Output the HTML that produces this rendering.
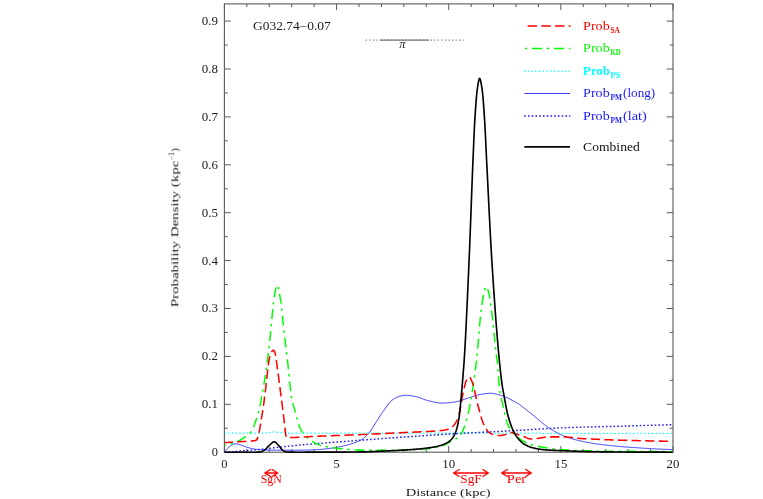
<!DOCTYPE html>
<html><head><meta charset="utf-8"><title>Distance PDF</title>
<style>
html,body{margin:0;padding:0;background:#fff;}
body{width:763px;height:499px;overflow:hidden;font-family:"Liberation Serif",serif;}
svg{display:block;}
svg text{font-family:"Liberation Serif",serif;stroke:none;}
</style></head><body>
<svg width="763" height="499" viewBox="0 0 763 499">
<rect x="0" y="0" width="763" height="499" fill="#ffffff"/>
<g opacity="0.999">
<defs><clipPath id="c"><rect x="224.4" y="3.9" width="448.20000000000005" height="449.6"/></clipPath></defs>
<rect x="224.4" y="3.9" width="448.6" height="448.3" fill="none" stroke="#5a5a5a" stroke-width="1.1"/>
<path d="M224.40,452.2 v-6.2 M224.40,3.9 v6.2 M246.83,452.2 v-3.2 M246.83,3.9 v3.2 M269.26,452.2 v-3.2 M269.26,3.9 v3.2 M291.69,452.2 v-3.2 M291.69,3.9 v3.2 M314.12,452.2 v-3.2 M314.12,3.9 v3.2 M336.55,452.2 v-6.2 M336.55,3.9 v6.2 M358.98,452.2 v-3.2 M358.98,3.9 v3.2 M381.41,452.2 v-3.2 M381.41,3.9 v3.2 M403.84,452.2 v-3.2 M403.84,3.9 v3.2 M426.27,452.2 v-3.2 M426.27,3.9 v3.2 M448.70,452.2 v-6.2 M448.70,3.9 v6.2 M471.13,452.2 v-3.2 M471.13,3.9 v3.2 M493.56,452.2 v-3.2 M493.56,3.9 v3.2 M515.99,452.2 v-3.2 M515.99,3.9 v3.2 M538.42,452.2 v-3.2 M538.42,3.9 v3.2 M560.85,452.2 v-6.2 M560.85,3.9 v6.2 M583.28,452.2 v-3.2 M583.28,3.9 v3.2 M605.71,452.2 v-3.2 M605.71,3.9 v3.2 M628.14,452.2 v-3.2 M628.14,3.9 v3.2 M650.57,452.2 v-3.2 M650.57,3.9 v3.2 M673.00,452.2 v-6.2 M673.00,3.9 v6.2 M224.4,452.20 h6.3 M673.0,452.20 h-6.3 M224.4,428.25 h3.3 M673.0,428.25 h-3.3 M224.4,404.30 h6.3 M673.0,404.30 h-6.3 M224.4,380.35 h3.3 M673.0,380.35 h-3.3 M224.4,356.40 h6.3 M673.0,356.40 h-6.3 M224.4,332.45 h3.3 M673.0,332.45 h-3.3 M224.4,308.50 h6.3 M673.0,308.50 h-6.3 M224.4,284.55 h3.3 M673.0,284.55 h-3.3 M224.4,260.60 h6.3 M673.0,260.60 h-6.3 M224.4,236.65 h3.3 M673.0,236.65 h-3.3 M224.4,212.70 h6.3 M673.0,212.70 h-6.3 M224.4,188.75 h3.3 M673.0,188.75 h-3.3 M224.4,164.80 h6.3 M673.0,164.80 h-6.3 M224.4,140.85 h3.3 M673.0,140.85 h-3.3 M224.4,116.90 h6.3 M673.0,116.90 h-6.3 M224.4,92.95 h3.3 M673.0,92.95 h-3.3 M224.4,69.00 h6.3 M673.0,69.00 h-6.3 M224.4,45.05 h3.3 M673.0,45.05 h-3.3 M224.4,21.10 h6.3 M673.0,21.10 h-6.3" fill="none" stroke="#5a5a5a" stroke-width="1"/>
<g clip-path="url(#c)" fill="none" stroke-linejoin="round">
<path d="M224.40,433.18 L225.15,433.18 L225.90,433.18 L226.65,433.18 L227.40,433.18 L228.14,433.18 L228.89,433.18 L229.64,433.18 L230.39,433.18 L231.14,433.18 L231.89,433.18 L232.64,433.18 L233.39,433.18 L234.14,433.18 L234.88,433.18 L235.63,433.18 L236.38,433.18 L237.13,433.18 L237.88,433.18 L238.63,433.18 L239.38,433.18 L240.13,433.18 L240.88,433.18 L241.63,433.18 L242.37,433.18 L243.12,433.18 L243.87,433.18 L244.62,433.18 L245.37,433.18 L246.12,433.18 L246.87,433.18 L247.62,433.18 L248.37,433.18 L249.11,433.18 L249.86,433.18 L250.61,433.18 L251.36,433.18 L252.11,433.18 L252.86,433.18 L253.61,433.18 L254.36,433.18 L255.11,433.18 L255.85,433.18 L256.60,433.18 L257.35,433.18 L258.10,433.18 L258.85,433.18 L259.60,433.18 L260.29,433.18 L260.35,433.18 L261.10,433.18 L261.85,433.16 L262.59,433.13 L263.34,433.09 L264.09,433.04 L264.84,432.98 L265.59,432.92 L266.34,432.85 L267.09,432.78 L267.84,432.71 L268.59,432.63 L269.26,432.56 L269.33,432.55 L270.08,432.44 L270.83,432.28 L271.58,432.10 L272.33,431.94 L273.08,431.83 L273.75,431.79 L273.83,431.79 L274.58,431.83 L275.33,431.91 L276.08,432.03 L276.82,432.17 L277.57,432.31 L278.32,432.43 L279.07,432.53 L279.35,432.56 L279.82,432.60 L280.57,432.67 L281.32,432.73 L282.07,432.80 L282.82,432.86 L283.56,432.92 L284.31,432.98 L285.06,433.03 L285.81,433.07 L286.56,433.11 L287.31,433.14 L288.06,433.17 L288.81,433.18 L289.45,433.18 L289.56,433.18 L290.30,433.18 L291.05,433.18 L291.80,433.18 L292.55,433.18 L293.30,433.18 L294.05,433.18 L294.80,433.18 L295.55,433.18 L296.30,433.18 L297.04,433.18 L297.79,433.18 L298.54,433.18 L299.29,433.18 L300.04,433.18 L300.79,433.18 L301.54,433.18 L302.29,433.18 L303.04,433.18 L303.78,433.18 L304.53,433.18 L305.28,433.18 L306.03,433.18 L306.78,433.18 L307.53,433.18 L308.28,433.18 L309.03,433.18 L309.78,433.18 L310.53,433.18 L311.27,433.18 L312.02,433.18 L312.77,433.18 L313.52,433.18 L314.27,433.18 L315.02,433.18 L315.77,433.18 L316.52,433.18 L317.27,433.18 L318.01,433.18 L318.76,433.18 L319.51,433.18 L320.26,433.18 L321.01,433.18 L321.76,433.18 L322.51,433.18 L323.26,433.18 L324.01,433.18 L324.75,433.18 L325.50,433.18 L326.25,433.18 L327.00,433.18 L327.75,433.18 L328.50,433.18 L329.25,433.18 L330.00,433.18 L330.75,433.18 L331.49,433.18 L332.24,433.18 L332.99,433.18 L333.74,433.18 L334.49,433.18 L335.24,433.18 L335.99,433.18 L336.74,433.18 L337.49,433.18 L338.24,433.18 L338.98,433.18 L339.73,433.18 L340.48,433.18 L341.23,433.18 L341.98,433.18 L342.73,433.18 L343.48,433.18 L344.23,433.18 L344.98,433.18 L345.72,433.18 L346.47,433.18 L347.22,433.18 L347.97,433.18 L348.72,433.18 L349.47,433.18 L350.22,433.18 L350.97,433.18 L351.72,433.18 L352.46,433.18 L353.21,433.18 L353.96,433.18 L354.71,433.18 L355.46,433.18 L356.21,433.18 L356.96,433.18 L357.71,433.18 L358.46,433.18 L359.20,433.18 L359.95,433.18 L360.70,433.18 L361.45,433.18 L362.20,433.18 L362.95,433.18 L363.70,433.18 L364.45,433.18 L365.20,433.18 L365.94,433.18 L366.69,433.18 L367.44,433.18 L368.19,433.18 L368.94,433.18 L369.69,433.18 L370.44,433.18 L371.19,433.18 L371.94,433.18 L372.69,433.18 L373.43,433.18 L374.18,433.18 L374.93,433.18 L375.68,433.18 L376.43,433.18 L377.18,433.18 L377.93,433.18 L378.68,433.18 L379.43,433.18 L380.17,433.18 L380.92,433.18 L381.67,433.18 L382.42,433.18 L383.17,433.18 L383.92,433.18 L384.67,433.18 L385.42,433.18 L386.17,433.18 L386.91,433.18 L387.66,433.18 L388.41,433.18 L389.16,433.18 L389.91,433.18 L390.66,433.18 L391.41,433.18 L392.16,433.18 L392.91,433.18 L393.65,433.18 L394.40,433.18 L395.15,433.18 L395.90,433.18 L396.65,433.18 L397.40,433.18 L398.15,433.18 L398.90,433.18 L399.65,433.18 L400.39,433.18 L401.14,433.18 L401.89,433.18 L402.64,433.18 L403.39,433.18 L404.14,433.18 L404.89,433.18 L405.64,433.18 L406.39,433.18 L407.14,433.18 L407.88,433.18 L408.63,433.18 L409.38,433.18 L410.13,433.18 L410.88,433.18 L411.63,433.18 L412.38,433.18 L413.13,433.18 L413.88,433.18 L414.62,433.18 L415.37,433.18 L416.12,433.18 L416.87,433.18 L417.62,433.18 L418.37,433.18 L419.12,433.18 L419.87,433.18 L420.62,433.18 L421.36,433.18 L422.11,433.18 L422.86,433.18 L423.61,433.18 L424.36,433.18 L425.11,433.18 L425.86,433.18 L426.61,433.18 L427.36,433.18 L428.10,433.18 L428.85,433.18 L429.60,433.18 L430.35,433.18 L431.10,433.18 L431.85,433.18 L432.60,433.18 L433.35,433.18 L434.10,433.18 L434.85,433.18 L435.59,433.18 L436.34,433.18 L437.09,433.18 L437.84,433.18 L438.59,433.18 L439.34,433.18 L440.09,433.18 L440.84,433.18 L441.59,433.18 L442.33,433.18 L443.08,433.18 L443.83,433.18 L444.58,433.18 L445.33,433.18 L446.08,433.18 L446.83,433.18 L447.58,433.18 L448.33,433.18 L449.07,433.18 L449.82,433.18 L450.57,433.18 L451.32,433.18 L452.07,433.18 L452.82,433.18 L453.57,433.18 L454.32,433.18 L455.07,433.18 L455.43,433.18 L455.81,433.18 L456.56,433.18 L457.31,433.16 L458.06,433.15 L458.81,433.12 L459.56,433.10 L460.31,433.07 L461.06,433.04 L461.81,433.01 L462.55,432.98 L463.30,432.94 L464.05,432.91 L464.80,432.88 L465.55,432.86 L466.30,432.84 L467.05,432.82 L467.80,432.81 L468.55,432.80 L468.89,432.80 L469.30,432.80 L470.04,432.81 L470.79,432.82 L471.54,432.84 L472.29,432.86 L473.04,432.89 L473.79,432.91 L474.54,432.94 L475.29,432.98 L476.04,433.01 L476.78,433.04 L477.53,433.07 L478.28,433.10 L479.03,433.12 L479.78,433.14 L480.53,433.16 L481.28,433.18 L482.03,433.18 L482.35,433.18 L482.78,433.18 L483.52,433.19 L484.27,433.19 L485.02,433.19 L485.77,433.19 L486.52,433.19 L487.27,433.19 L488.02,433.19 L488.77,433.19 L489.52,433.19 L490.26,433.19 L491.01,433.20 L491.76,433.20 L492.51,433.20 L493.26,433.20 L494.01,433.20 L494.76,433.20 L495.51,433.20 L496.26,433.20 L497.01,433.20 L497.75,433.20 L498.50,433.20 L499.25,433.21 L500.00,433.21 L500.75,433.21 L501.50,433.21 L502.25,433.21 L503.00,433.21 L503.75,433.21 L504.49,433.21 L505.24,433.21 L505.99,433.21 L506.74,433.21 L507.49,433.21 L508.24,433.22 L508.99,433.22 L509.74,433.22 L510.49,433.22 L511.23,433.22 L511.98,433.22 L512.73,433.22 L513.48,433.22 L514.23,433.22 L514.98,433.22 L515.73,433.22 L516.48,433.22 L517.23,433.22 L517.97,433.22 L518.72,433.23 L519.47,433.23 L520.22,433.23 L520.97,433.23 L521.72,433.23 L522.47,433.23 L523.22,433.23 L523.97,433.23 L524.71,433.23 L525.46,433.23 L526.21,433.23 L526.96,433.23 L527.71,433.23 L528.46,433.23 L529.21,433.23 L529.96,433.24 L530.71,433.24 L531.46,433.24 L532.20,433.24 L532.95,433.24 L533.70,433.24 L534.45,433.24 L535.20,433.24 L535.95,433.24 L536.70,433.24 L537.45,433.24 L538.20,433.24 L538.94,433.24 L539.69,433.24 L540.44,433.24 L541.19,433.24 L541.94,433.24 L542.69,433.25 L543.44,433.25 L544.19,433.25 L544.94,433.25 L545.68,433.25 L546.43,433.25 L547.18,433.25 L547.93,433.25 L548.68,433.25 L549.43,433.25 L550.18,433.25 L550.93,433.25 L551.68,433.25 L552.42,433.25 L553.17,433.25 L553.92,433.25 L554.67,433.25 L555.42,433.25 L556.17,433.25 L556.92,433.25 L557.67,433.25 L558.42,433.25 L559.16,433.26 L559.91,433.26 L560.66,433.26 L561.41,433.26 L562.16,433.26 L562.91,433.26 L563.66,433.26 L564.41,433.26 L565.16,433.26 L565.91,433.26 L566.65,433.26 L567.40,433.26 L568.15,433.26 L568.90,433.26 L569.65,433.26 L570.40,433.26 L571.15,433.26 L571.90,433.26 L572.65,433.26 L573.39,433.26 L574.14,433.26 L574.89,433.26 L575.64,433.26 L576.39,433.26 L577.14,433.26 L577.89,433.26 L578.64,433.26 L579.39,433.26 L580.13,433.27 L580.88,433.27 L581.63,433.27 L582.38,433.27 L583.13,433.27 L583.88,433.27 L584.63,433.27 L585.38,433.27 L586.13,433.27 L586.87,433.27 L587.62,433.27 L588.37,433.27 L589.12,433.27 L589.87,433.27 L590.62,433.27 L591.37,433.27 L592.12,433.27 L592.87,433.27 L593.62,433.27 L594.36,433.27 L595.11,433.27 L595.86,433.27 L596.61,433.27 L597.36,433.27 L598.11,433.27 L598.86,433.27 L599.61,433.27 L600.36,433.27 L601.10,433.27 L601.85,433.27 L602.60,433.27 L603.35,433.27 L604.10,433.27 L604.85,433.27 L605.60,433.27 L606.35,433.27 L607.10,433.27 L607.84,433.27 L608.59,433.27 L609.34,433.27 L610.09,433.27 L610.84,433.27 L611.59,433.27 L612.34,433.27 L613.09,433.27 L613.84,433.27 L614.58,433.28 L615.33,433.28 L616.08,433.28 L616.83,433.28 L617.58,433.28 L618.33,433.28 L619.08,433.28 L619.83,433.28 L620.58,433.28 L621.32,433.28 L622.07,433.28 L622.82,433.28 L623.57,433.28 L624.32,433.28 L625.07,433.28 L625.82,433.28 L626.57,433.28 L627.32,433.28 L628.07,433.28 L628.81,433.28 L629.56,433.28 L630.31,433.28 L631.06,433.28 L631.81,433.28 L632.56,433.28 L633.31,433.28 L634.06,433.28 L634.81,433.28 L635.55,433.28 L636.30,433.28 L637.05,433.28 L637.80,433.28 L638.55,433.28 L639.30,433.28 L640.05,433.28 L640.80,433.28 L641.55,433.28 L642.29,433.28 L643.04,433.28 L643.79,433.28 L644.54,433.28 L645.29,433.28 L646.04,433.28 L646.79,433.28 L647.54,433.28 L648.29,433.28 L649.03,433.28 L649.78,433.28 L650.53,433.28 L651.28,433.28 L652.03,433.28 L652.78,433.28 L653.53,433.28 L654.28,433.28 L655.03,433.28 L655.77,433.28 L656.52,433.28 L657.27,433.28 L658.02,433.28 L658.77,433.28 L659.52,433.28 L660.27,433.28 L661.02,433.28 L661.77,433.28 L662.52,433.28 L663.26,433.28 L664.01,433.28 L664.76,433.28 L665.51,433.28 L666.26,433.28 L667.01,433.28 L667.76,433.28 L668.51,433.28 L669.26,433.28 L670.00,433.28 L670.75,433.28 L671.50,433.28 L672.25,433.28 L673.00,433.28" stroke="#00ffff" stroke-width="1.25" stroke-dasharray="1.45 2.3"/>
<path d="M224.40,452.20 L225.15,452.15 L225.90,452.11 L226.65,452.06 L227.40,452.01 L228.14,451.96 L228.89,451.91 L229.64,451.86 L230.39,451.81 L231.14,451.75 L231.89,451.70 L232.64,451.65 L233.39,451.59 L234.14,451.54 L234.88,451.48 L235.63,451.43 L236.38,451.37 L237.13,451.32 L237.88,451.26 L238.63,451.20 L239.38,451.14 L240.13,451.08 L240.88,451.02 L241.63,450.96 L242.37,450.90 L243.12,450.84 L243.87,450.78 L244.62,450.72 L245.37,450.66 L246.12,450.59 L246.87,450.53 L247.62,450.47 L248.37,450.40 L249.11,450.34 L249.86,450.27 L250.61,450.21 L251.36,450.14 L252.11,450.07 L252.86,450.01 L253.61,449.94 L254.36,449.87 L255.11,449.81 L255.85,449.74 L256.60,449.67 L257.35,449.60 L258.10,449.53 L258.85,449.46 L259.60,449.39 L260.29,449.33 L260.35,449.32 L261.10,449.25 L261.85,449.18 L262.59,449.10 L263.34,449.02 L264.09,448.95 L264.84,448.87 L265.59,448.79 L266.34,448.70 L267.09,448.62 L267.84,448.54 L268.59,448.45 L269.33,448.37 L270.08,448.28 L270.83,448.19 L271.58,448.10 L272.33,448.01 L273.08,447.93 L273.83,447.84 L274.58,447.75 L275.33,447.66 L276.08,447.57 L276.82,447.48 L277.57,447.39 L278.32,447.30 L279.07,447.21 L279.82,447.13 L280.57,447.04 L281.32,446.95 L282.07,446.87 L282.82,446.78 L283.56,446.70 L284.31,446.61 L285.06,446.53 L285.81,446.45 L286.56,446.37 L287.31,446.29 L288.06,446.22 L288.10,446.21 L288.81,446.14 L289.56,446.07 L290.30,445.99 L291.05,445.92 L291.80,445.84 L292.55,445.77 L293.30,445.70 L294.05,445.62 L294.80,445.55 L295.55,445.48 L296.30,445.41 L297.04,445.34 L297.79,445.27 L298.54,445.20 L299.29,445.13 L300.04,445.06 L300.79,444.99 L301.54,444.92 L302.29,444.85 L303.04,444.78 L303.78,444.72 L304.53,444.65 L305.28,444.58 L306.03,444.51 L306.78,444.45 L307.53,444.38 L308.28,444.32 L309.03,444.25 L309.78,444.19 L310.53,444.12 L311.27,444.06 L312.02,443.99 L312.77,443.93 L313.52,443.87 L314.12,443.82 L314.27,443.80 L315.02,443.74 L315.77,443.68 L316.52,443.62 L317.27,443.56 L318.01,443.50 L318.76,443.44 L319.51,443.38 L320.26,443.32 L321.01,443.26 L321.76,443.21 L322.51,443.15 L323.26,443.09 L324.01,443.03 L324.75,442.98 L325.50,442.92 L326.25,442.86 L327.00,442.81 L327.75,442.75 L328.50,442.70 L329.25,442.64 L330.00,442.58 L330.75,442.53 L331.49,442.47 L332.24,442.42 L332.99,442.36 L333.74,442.31 L334.49,442.25 L335.24,442.19 L335.99,442.14 L336.74,442.08 L337.49,442.03 L338.24,441.97 L338.98,441.91 L339.73,441.85 L340.36,441.81 L340.48,441.80 L341.23,441.74 L341.98,441.68 L342.73,441.62 L343.48,441.56 L344.23,441.51 L344.98,441.45 L345.72,441.39 L346.47,441.33 L347.22,441.27 L347.97,441.21 L348.72,441.15 L349.47,441.09 L350.22,441.04 L350.97,440.98 L351.72,440.92 L352.46,440.86 L353.21,440.80 L353.96,440.74 L354.71,440.68 L355.46,440.62 L356.21,440.56 L356.96,440.50 L357.71,440.45 L358.46,440.39 L359.20,440.33 L359.95,440.27 L360.70,440.21 L361.45,440.15 L362.20,440.10 L362.95,440.04 L363.70,439.98 L364.45,439.92 L365.20,439.86 L365.94,439.81 L366.69,439.75 L367.44,439.69 L368.19,439.63 L368.94,439.58 L369.69,439.52 L370.44,439.47 L371.19,439.41 L371.94,439.35 L372.69,439.30 L373.11,439.27 L373.43,439.24 L374.18,439.19 L374.93,439.13 L375.68,439.08 L376.43,439.02 L377.18,438.97 L377.93,438.91 L378.68,438.86 L379.43,438.80 L380.17,438.75 L380.92,438.69 L381.67,438.64 L382.42,438.58 L383.17,438.53 L383.92,438.47 L384.67,438.42 L385.42,438.36 L386.17,438.31 L386.91,438.25 L387.66,438.20 L388.41,438.15 L389.16,438.09 L389.91,438.04 L390.66,437.98 L391.41,437.93 L392.16,437.87 L392.91,437.82 L393.65,437.77 L394.40,437.71 L395.15,437.66 L395.90,437.60 L396.65,437.55 L397.40,437.50 L398.15,437.44 L398.90,437.39 L399.65,437.33 L400.39,437.28 L401.14,437.23 L401.89,437.17 L402.64,437.12 L403.39,437.07 L404.14,437.02 L404.89,436.96 L405.64,436.91 L406.39,436.86 L407.14,436.80 L407.88,436.75 L408.63,436.70 L409.38,436.65 L410.13,436.60 L410.88,436.54 L411.63,436.49 L412.38,436.44 L413.13,436.39 L413.88,436.34 L414.62,436.28 L415.37,436.23 L416.12,436.18 L416.87,436.13 L417.62,436.08 L418.37,436.03 L419.12,435.98 L419.87,435.93 L420.62,435.88 L421.36,435.83 L422.11,435.78 L422.86,435.73 L423.61,435.68 L424.36,435.63 L425.11,435.58 L425.86,435.53 L426.61,435.48 L427.36,435.43 L428.10,435.38 L428.85,435.33 L429.60,435.29 L430.35,435.24 L431.10,435.19 L431.85,435.14 L432.60,435.09 L433.35,435.05 L434.10,435.00 L434.85,434.95 L435.59,434.90 L436.34,434.86 L437.09,434.81 L437.84,434.76 L438.59,434.72 L439.34,434.67 L440.09,434.63 L440.18,434.62 L440.84,434.58 L441.59,434.53 L442.33,434.49 L443.08,434.44 L443.83,434.40 L444.58,434.36 L445.33,434.31 L446.08,434.27 L446.83,434.22 L447.58,434.18 L448.33,434.13 L449.07,434.09 L449.82,434.05 L450.57,434.00 L451.32,433.96 L452.07,433.92 L452.82,433.88 L453.57,433.83 L454.32,433.79 L455.07,433.75 L455.81,433.71 L456.56,433.66 L457.31,433.62 L458.06,433.58 L458.81,433.54 L459.56,433.50 L460.31,433.46 L461.06,433.42 L461.81,433.37 L462.55,433.33 L463.30,433.29 L464.05,433.25 L464.80,433.21 L465.55,433.17 L466.30,433.13 L467.05,433.09 L467.80,433.05 L468.55,433.01 L469.30,432.97 L470.04,432.93 L470.79,432.89 L471.54,432.85 L472.29,432.81 L473.04,432.77 L473.79,432.73 L474.54,432.69 L475.29,432.65 L476.04,432.61 L476.78,432.57 L477.53,432.53 L478.28,432.49 L479.03,432.45 L479.78,432.41 L480.53,432.38 L481.28,432.34 L482.03,432.30 L482.78,432.26 L483.52,432.22 L484.27,432.18 L485.02,432.14 L485.77,432.10 L486.52,432.06 L487.27,432.02 L488.02,431.98 L488.77,431.94 L489.52,431.91 L490.26,431.87 L491.01,431.83 L491.76,431.79 L492.51,431.75 L493.26,431.71 L494.01,431.67 L494.76,431.63 L495.51,431.59 L496.26,431.55 L497.01,431.51 L497.75,431.47 L498.50,431.43 L499.25,431.39 L500.00,431.35 L500.75,431.31 L501.50,431.27 L502.25,431.23 L503.00,431.19 L503.75,431.15 L504.49,431.11 L505.24,431.07 L505.99,431.03 L506.74,430.99 L507.49,430.95 L508.24,430.91 L508.99,430.87 L509.74,430.83 L510.49,430.79 L511.23,430.75 L511.98,430.71 L512.73,430.66 L513.07,430.64 L513.48,430.62 L514.23,430.58 L514.98,430.54 L515.73,430.50 L516.48,430.45 L517.23,430.41 L517.97,430.36 L518.72,430.32 L519.47,430.28 L520.22,430.23 L520.97,430.19 L521.72,430.14 L522.47,430.10 L523.22,430.05 L523.97,430.00 L524.71,429.96 L525.46,429.91 L526.21,429.87 L526.96,429.82 L527.71,429.77 L528.46,429.73 L529.21,429.68 L529.96,429.63 L530.71,429.59 L531.46,429.54 L532.20,429.49 L532.95,429.45 L533.70,429.40 L534.45,429.35 L535.20,429.31 L535.95,429.26 L536.70,429.21 L537.45,429.17 L538.20,429.12 L538.94,429.08 L539.69,429.03 L540.44,428.99 L541.19,428.94 L541.94,428.90 L542.69,428.85 L543.44,428.81 L544.19,428.76 L544.94,428.72 L545.68,428.68 L546.43,428.63 L547.18,428.59 L547.93,428.55 L548.68,428.51 L549.43,428.47 L550.18,428.43 L550.93,428.39 L551.68,428.35 L552.42,428.31 L553.17,428.27 L553.92,428.23 L554.67,428.19 L555.42,428.16 L556.17,428.12 L556.92,428.08 L557.67,428.05 L558.42,428.01 L559.16,427.98 L559.91,427.95 L560.66,427.91 L561.41,427.88 L562.16,427.85 L562.91,427.82 L563.66,427.79 L564.21,427.77 L564.41,427.76 L565.16,427.74 L565.91,427.71 L566.65,427.68 L567.40,427.65 L568.15,427.63 L568.90,427.60 L569.65,427.58 L570.40,427.55 L571.15,427.52 L571.90,427.50 L572.65,427.48 L573.39,427.45 L574.14,427.43 L574.89,427.40 L575.64,427.38 L576.39,427.36 L577.14,427.33 L577.89,427.31 L578.64,427.29 L579.39,427.27 L580.13,427.25 L580.88,427.22 L581.63,427.20 L582.38,427.18 L583.13,427.16 L583.88,427.14 L584.63,427.12 L585.38,427.10 L586.13,427.08 L586.87,427.06 L587.62,427.04 L588.37,427.02 L589.12,427.00 L589.87,426.98 L590.62,426.96 L591.37,426.94 L592.12,426.92 L592.87,426.90 L593.62,426.88 L594.36,426.86 L595.11,426.84 L595.86,426.83 L596.61,426.81 L597.36,426.79 L598.11,426.77 L598.86,426.75 L599.61,426.73 L600.36,426.71 L601.10,426.69 L601.85,426.68 L602.60,426.66 L603.35,426.64 L604.10,426.62 L604.85,426.60 L605.60,426.58 L606.35,426.56 L607.10,426.54 L607.84,426.53 L608.59,426.51 L609.34,426.49 L610.09,426.47 L610.84,426.45 L611.59,426.43 L612.34,426.41 L613.09,426.39 L613.84,426.37 L614.58,426.35 L615.33,426.33 L616.08,426.31 L616.83,426.29 L617.58,426.27 L618.33,426.25 L619.08,426.23 L619.83,426.21 L620.58,426.19 L621.32,426.16 L622.07,426.14 L622.08,426.14 L622.82,426.12 L623.57,426.10 L624.32,426.08 L625.07,426.06 L625.82,426.03 L626.57,426.01 L627.32,425.99 L628.07,425.97 L628.81,425.95 L629.56,425.92 L630.31,425.90 L631.06,425.88 L631.81,425.86 L632.56,425.84 L633.31,425.81 L634.06,425.79 L634.81,425.77 L635.55,425.75 L636.30,425.72 L637.05,425.70 L637.80,425.68 L638.55,425.66 L639.30,425.64 L640.05,425.61 L640.80,425.59 L641.55,425.57 L642.29,425.55 L643.04,425.52 L643.79,425.50 L644.54,425.48 L645.29,425.46 L646.04,425.43 L646.79,425.41 L647.54,425.39 L648.29,425.37 L649.03,425.34 L649.78,425.32 L650.53,425.30 L651.28,425.28 L652.03,425.25 L652.78,425.23 L653.53,425.21 L654.28,425.18 L655.03,425.16 L655.77,425.14 L656.52,425.12 L657.27,425.09 L658.02,425.07 L658.77,425.05 L659.52,425.02 L660.27,425.00 L661.02,424.98 L661.77,424.96 L662.52,424.93 L663.26,424.91 L664.01,424.89 L664.76,424.86 L665.51,424.84 L666.26,424.82 L667.01,424.79 L667.76,424.77 L668.51,424.75 L669.26,424.73 L670.00,424.70 L670.75,424.68 L671.50,424.66 L672.25,424.63 L673.00,424.61" stroke="#1a1aff" stroke-width="1.45" stroke-dasharray="1.6 2.15"/>
<path d="M224.40,452.20 L225.15,451.28 L225.90,450.40 L226.65,449.56 L227.40,448.75 L227.76,448.37 L228.14,447.97 L228.89,447.17 L229.64,446.39 L230.39,445.73 L231.13,445.25 L231.14,445.25 L231.89,444.89 L232.64,444.55 L233.39,444.26 L234.14,444.02 L234.88,443.87 L235.62,443.82 L235.63,443.82 L236.38,443.86 L237.13,443.98 L237.88,444.16 L238.63,444.36 L239.38,444.58 L240.10,444.78 L240.13,444.78 L240.88,445.00 L241.63,445.25 L242.37,445.53 L243.12,445.82 L243.87,446.11 L244.62,446.41 L245.37,446.69 L246.12,446.95 L246.83,447.17 L246.87,447.18 L247.62,447.40 L248.37,447.62 L249.11,447.83 L249.86,448.05 L250.61,448.25 L251.36,448.45 L252.11,448.64 L252.86,448.81 L253.61,448.97 L254.36,449.11 L255.11,449.22 L255.85,449.31 L256.03,449.33 L256.60,449.38 L257.35,449.44 L258.10,449.50 L258.85,449.56 L259.60,449.62 L260.35,449.67 L261.10,449.72 L261.85,449.76 L262.59,449.80 L263.34,449.84 L264.09,449.88 L264.84,449.91 L265.59,449.94 L266.34,449.97 L267.09,449.99 L267.84,450.01 L268.59,450.03 L269.26,450.04 L269.33,450.05 L270.08,450.06 L270.83,450.07 L271.58,450.09 L272.33,450.10 L273.08,450.11 L273.83,450.13 L274.58,450.14 L275.33,450.15 L276.08,450.16 L276.82,450.17 L277.57,450.18 L278.32,450.19 L279.07,450.20 L279.82,450.21 L280.57,450.22 L281.32,450.23 L282.07,450.23 L282.82,450.24 L283.56,450.25 L284.31,450.25 L285.06,450.26 L285.81,450.26 L286.56,450.27 L287.31,450.27 L288.06,450.28 L288.81,450.28 L289.56,450.28 L290.30,450.28 L291.05,450.28 L291.69,450.28 L291.80,450.28 L292.55,450.28 L293.30,450.28 L294.05,450.28 L294.80,450.27 L295.55,450.27 L296.30,450.26 L297.04,450.25 L297.79,450.24 L298.54,450.23 L299.29,450.22 L300.04,450.20 L300.79,450.19 L301.54,450.17 L302.29,450.16 L303.04,450.14 L303.78,450.12 L304.53,450.10 L305.28,450.08 L306.03,450.06 L306.78,450.04 L307.53,450.02 L308.28,450.00 L309.03,449.98 L309.78,449.95 L310.53,449.93 L311.27,449.90 L312.02,449.88 L312.77,449.85 L313.52,449.83 L314.12,449.81 L314.27,449.80 L315.02,449.77 L315.77,449.73 L316.52,449.70 L317.27,449.65 L318.01,449.60 L318.76,449.55 L319.51,449.50 L320.26,449.44 L321.01,449.37 L321.76,449.30 L322.51,449.23 L323.26,449.16 L324.01,449.08 L324.75,449.00 L325.50,448.92 L326.25,448.83 L327.00,448.74 L327.75,448.65 L328.50,448.55 L329.25,448.46 L330.00,448.36 L330.75,448.25 L331.49,448.15 L332.24,448.05 L332.99,447.94 L333.74,447.83 L334.49,447.72 L335.24,447.61 L335.99,447.50 L336.55,447.41 L336.74,447.38 L337.49,447.26 L338.24,447.13 L338.98,446.99 L339.73,446.84 L340.48,446.69 L341.23,446.53 L341.98,446.36 L342.73,446.18 L343.48,446.00 L344.23,445.81 L344.98,445.61 L345.72,445.41 L346.47,445.21 L347.22,445.00 L347.97,444.79 L348.72,444.58 L349.47,444.36 L350.01,444.20 L350.22,444.14 L350.97,443.92 L351.72,443.69 L352.46,443.46 L353.21,443.22 L353.96,442.98 L354.71,442.72 L355.46,442.45 L356.21,442.17 L356.96,441.88 L357.71,441.57 L358.46,441.24 L359.20,440.90 L359.95,440.53 L360.55,440.22 L360.70,440.14 L361.45,439.71 L362.20,439.23 L362.95,438.71 L363.70,438.14 L364.45,437.53 L365.20,436.88 L365.94,436.19 L366.69,435.47 L367.44,434.72 L367.95,434.19 L368.19,433.93 L368.94,433.05 L369.69,432.07 L370.44,431.01 L371.19,429.89 L371.94,428.71 L372.69,427.51 L373.43,426.28 L374.18,425.06 L374.93,423.86 L375.68,422.69 L376.03,422.17 L376.43,421.56 L377.18,420.42 L377.93,419.27 L378.68,418.11 L379.43,416.95 L380.17,415.80 L380.92,414.65 L381.67,413.52 L382.42,412.42 L383.17,411.34 L383.92,410.30 L384.10,410.05 L384.67,409.27 L385.42,408.22 L386.17,407.16 L386.91,406.10 L387.66,405.06 L388.41,404.05 L389.16,403.10 L389.91,402.21 L390.66,401.41 L391.41,400.70 L392.16,400.10 L392.18,400.08 L392.91,399.58 L393.65,399.08 L394.40,398.60 L395.15,398.16 L395.90,397.74 L396.65,397.36 L397.40,397.02 L398.15,396.72 L398.90,396.46 L399.65,396.25 L400.03,396.16 L400.39,396.08 L401.14,395.92 L401.89,395.77 L402.64,395.63 L403.39,395.51 L404.14,395.41 L404.89,395.34 L405.64,395.30 L406.08,395.29 L406.39,395.30 L407.14,395.32 L407.88,395.36 L408.63,395.42 L409.38,395.50 L410.13,395.60 L410.88,395.71 L411.63,395.83 L412.38,395.96 L413.13,396.09 L413.88,396.24 L414.62,396.38 L415.37,396.53 L416.12,396.67 L416.18,396.68 L416.87,396.83 L417.62,397.02 L418.37,397.24 L419.12,397.48 L419.87,397.74 L420.62,398.02 L421.36,398.30 L422.11,398.59 L422.86,398.89 L423.61,399.18 L424.36,399.47 L425.11,399.74 L425.86,400.01 L426.61,400.25 L427.36,400.47 L428.10,400.66 L428.29,400.71 L428.85,400.84 L429.60,401.01 L430.35,401.19 L431.10,401.37 L431.85,401.55 L432.60,401.72 L433.35,401.90 L434.10,402.06 L434.85,402.22 L435.59,402.37 L436.34,402.51 L437.09,402.64 L437.84,402.76 L438.59,402.86 L439.34,402.95 L440.09,403.02 L440.84,403.07 L441.59,403.09 L442.20,403.10 L442.33,403.10 L443.08,403.09 L443.83,403.08 L444.58,403.05 L445.33,403.01 L446.08,402.97 L446.83,402.91 L447.58,402.85 L448.33,402.79 L449.07,402.71 L449.82,402.63 L450.57,402.55 L451.32,402.47 L452.07,402.38 L452.82,402.28 L453.57,402.19 L454.31,402.10 L454.32,402.10 L455.07,401.99 L455.81,401.86 L456.56,401.70 L457.31,401.53 L458.06,401.34 L458.81,401.13 L459.56,400.91 L460.31,400.68 L461.06,400.44 L461.81,400.19 L462.55,399.94 L463.30,399.68 L464.05,399.43 L464.80,399.17 L465.55,398.92 L466.30,398.67 L467.05,398.43 L467.80,398.20 L468.21,398.07 L468.55,397.97 L469.30,397.74 L470.04,397.50 L470.79,397.26 L471.54,397.01 L472.29,396.75 L473.04,396.50 L473.79,396.25 L474.54,396.00 L475.29,395.76 L476.04,395.53 L476.78,395.30 L477.53,395.10 L478.28,394.91 L479.03,394.73 L479.78,394.58 L480.33,394.48 L480.53,394.45 L481.28,394.32 L482.03,394.19 L482.78,394.07 L483.52,393.95 L484.27,393.83 L485.02,393.72 L485.77,393.62 L486.52,393.53 L487.27,393.45 L488.02,393.38 L488.77,393.33 L489.52,393.30 L490.26,393.28 L490.42,393.28 L491.01,393.29 L491.76,393.34 L492.51,393.41 L493.26,393.51 L494.01,393.64 L494.76,393.79 L495.51,393.95 L496.26,394.13 L497.01,394.32 L497.75,394.51 L498.50,394.72 L499.25,394.92 L500.00,395.12 L500.29,395.20 L500.75,395.32 L501.50,395.54 L502.25,395.78 L503.00,396.04 L503.75,396.31 L504.49,396.60 L505.24,396.90 L505.99,397.22 L506.74,397.55 L507.49,397.89 L508.24,398.25 L508.99,398.61 L509.74,398.99 L510.49,399.37 L511.23,399.76 L511.98,400.16 L512.73,400.57 L513.48,400.98 L514.23,401.39 L514.98,401.81 L515.73,402.24 L515.99,402.38 L516.48,402.66 L517.23,403.12 L517.97,403.59 L518.72,404.08 L519.47,404.58 L520.22,405.11 L520.97,405.65 L521.72,406.20 L522.47,406.76 L523.22,407.34 L523.97,407.92 L524.71,408.51 L525.46,409.11 L526.21,409.71 L526.96,410.31 L527.71,410.92 L528.46,411.53 L529.21,412.13 L529.96,412.73 L530.71,413.33 L531.46,413.92 L532.14,414.45 L532.20,414.50 L532.95,415.09 L533.70,415.70 L534.45,416.31 L535.20,416.93 L535.95,417.57 L536.70,418.20 L537.45,418.84 L538.20,419.49 L538.94,420.13 L539.69,420.77 L540.44,421.41 L541.19,422.04 L541.94,422.67 L542.69,423.29 L543.44,423.89 L544.19,424.49 L544.94,425.07 L545.68,425.63 L546.43,426.18 L547.18,426.70 L547.93,427.20 L548.06,427.29 L548.68,427.69 L549.43,428.17 L550.18,428.65 L550.93,429.12 L551.68,429.59 L552.42,430.05 L553.17,430.51 L553.92,430.95 L554.67,431.39 L555.42,431.82 L556.17,432.25 L556.92,432.66 L557.67,433.06 L558.42,433.46 L559.16,433.84 L559.91,434.21 L560.66,434.57 L561.41,434.92 L562.16,435.26 L562.91,435.58 L563.66,435.89 L564.21,436.11 L564.41,436.18 L565.16,436.47 L565.91,436.74 L566.65,437.01 L567.40,437.28 L568.15,437.54 L568.90,437.79 L569.65,438.04 L570.40,438.28 L571.15,438.51 L571.90,438.74 L572.65,438.96 L573.39,439.18 L574.14,439.39 L574.89,439.59 L575.64,439.79 L576.39,439.99 L577.14,440.18 L577.89,440.37 L578.64,440.55 L579.39,440.72 L580.13,440.89 L580.14,440.90 L580.88,441.06 L581.63,441.23 L582.38,441.39 L583.13,441.54 L583.88,441.70 L584.63,441.85 L585.38,441.99 L586.13,442.14 L586.87,442.28 L587.62,442.41 L588.37,442.55 L589.12,442.68 L589.87,442.81 L590.62,442.94 L591.37,443.06 L592.12,443.18 L592.87,443.30 L593.62,443.42 L594.36,443.53 L595.11,443.65 L595.86,443.76 L596.29,443.82 L596.61,443.86 L597.36,443.97 L598.11,444.07 L598.86,444.17 L599.61,444.27 L600.36,444.37 L601.10,444.47 L601.85,444.56 L602.60,444.65 L603.35,444.74 L604.10,444.83 L604.85,444.92 L605.60,445.01 L606.35,445.09 L607.10,445.18 L607.84,445.26 L608.59,445.34 L609.34,445.42 L610.09,445.51 L610.84,445.59 L611.59,445.67 L612.21,445.73 L612.34,445.75 L613.09,445.83 L613.84,445.91 L614.58,445.99 L615.33,446.06 L616.08,446.14 L616.83,446.22 L617.58,446.29 L618.33,446.37 L619.08,446.44 L619.83,446.51 L620.58,446.57 L621.32,446.63 L622.07,446.69 L622.08,446.69 L622.82,446.75 L623.57,446.80 L624.32,446.86 L625.07,446.92 L625.82,446.97 L626.57,447.03 L627.32,447.08 L628.07,447.14 L628.81,447.19 L629.56,447.25 L630.31,447.30 L631.06,447.36 L631.81,447.41 L632.56,447.46 L633.31,447.52 L634.06,447.57 L634.81,447.62 L635.55,447.67 L636.30,447.73 L637.05,447.78 L637.80,447.83 L638.55,447.88 L639.30,447.93 L640.05,447.98 L640.80,448.03 L641.55,448.08 L642.29,448.13 L643.04,448.17 L643.79,448.22 L644.54,448.27 L645.29,448.32 L646.04,448.36 L646.79,448.41 L647.54,448.45 L648.29,448.50 L649.03,448.54 L649.78,448.58 L650.53,448.62 L651.28,448.67 L652.03,448.71 L652.78,448.75 L653.53,448.79 L654.28,448.82 L655.03,448.86 L655.77,448.90 L656.52,448.94 L657.27,448.97 L658.02,449.01 L658.77,449.04 L659.52,449.07 L660.27,449.11 L661.02,449.14 L661.77,449.17 L662.52,449.20 L663.26,449.23 L664.01,449.26 L664.76,449.28 L665.51,449.31 L666.26,449.34 L667.01,449.36 L667.76,449.38 L668.51,449.41 L669.26,449.43 L670.00,449.45 L670.75,449.47 L671.50,449.48 L672.25,449.50 L673.00,449.52" stroke="#3636ff" stroke-width="1"/>
<path d="M224.40,445.01 L225.15,444.94 L225.90,444.85 L226.65,444.74 L227.40,444.61 L228.14,444.46 L228.89,444.30 L229.64,444.12 L230.39,443.93 L231.14,443.73 L231.89,443.53 L232.64,443.31 L233.37,443.10 L233.39,443.09 L234.14,442.86 L234.88,442.59 L235.63,442.29 L236.38,441.97 L237.13,441.63 L237.88,441.26 L238.63,440.88 L239.38,440.48 L240.13,440.07 L240.88,439.64 L241.63,439.21 L242.34,438.79 L242.37,438.77 L243.12,438.33 L243.87,437.89 L244.62,437.44 L245.37,436.97 L246.12,436.46 L246.87,435.92 L247.62,435.33 L248.37,434.68 L249.11,433.96 L249.86,433.16 L249.97,433.04 L250.61,432.23 L251.36,431.10 L252.11,429.77 L252.86,428.26 L253.61,426.58 L254.36,424.75 L255.11,422.77 L255.85,420.67 L256.60,418.44 L257.35,416.11 L258.05,413.88 L258.10,413.69 L258.85,410.94 L259.60,407.72 L260.35,404.13 L261.10,400.27 L261.85,396.22 L262.59,392.07 L262.98,389.93 L263.34,387.89 L264.09,383.52 L264.84,378.93 L265.59,374.08 L266.34,368.96 L267.02,364.06 L267.09,363.53 L267.84,357.64 L268.59,351.27 L269.33,344.55 L270.08,337.62 L270.38,334.84 L270.83,330.35 L271.58,322.08 L272.33,313.65 L273.08,306.07 L273.75,300.84 L273.83,300.31 L274.58,295.39 L275.33,290.80 L276.08,287.18 L276.82,285.21 L277.11,285.03 L277.57,285.45 L278.32,287.65 L279.07,291.21 L279.82,295.50 L280.48,299.40 L280.57,299.96 L281.32,305.57 L282.07,312.58 L282.82,320.18 L283.56,327.56 L283.84,330.06 L284.31,334.15 L285.06,340.42 L285.81,346.56 L286.56,352.72 L287.31,359.01 L288.06,365.59 L288.10,365.98 L288.81,373.04 L289.56,381.20 L290.30,388.77 L291.02,394.24 L291.05,394.46 L291.80,398.51 L292.55,401.92 L293.30,404.89 L294.05,407.60 L294.80,410.23 L295.28,411.96 L295.55,412.96 L296.30,415.80 L297.04,418.64 L297.79,421.37 L298.54,423.90 L299.29,426.11 L300.04,427.91 L300.21,428.25 L300.79,429.32 L301.54,430.61 L302.29,431.80 L303.04,432.90 L303.78,433.91 L304.53,434.84 L305.28,435.69 L306.03,436.48 L306.78,437.20 L307.53,437.86 L308.06,438.31 L308.28,438.48 L309.03,439.07 L309.78,439.65 L310.53,440.20 L311.27,440.73 L312.02,441.24 L312.77,441.72 L313.52,442.19 L314.27,442.63 L315.02,443.04 L315.77,443.43 L316.52,443.80 L317.27,444.14 L318.01,444.45 L318.76,444.74 L319.51,445.00 L320.18,445.21 L320.26,445.23 L321.01,445.44 L321.76,445.64 L322.51,445.83 L323.26,446.01 L324.01,446.18 L324.75,446.34 L325.50,446.49 L326.25,446.63 L327.00,446.77 L327.75,446.90 L328.50,447.03 L329.25,447.15 L330.00,447.26 L330.75,447.38 L331.49,447.49 L332.24,447.60 L332.29,447.60 L332.99,447.70 L333.74,447.81 L334.49,447.91 L335.24,448.01 L335.99,448.11 L336.74,448.21 L337.49,448.31 L338.24,448.40 L338.98,448.49 L339.73,448.58 L340.48,448.66 L341.23,448.75 L341.98,448.82 L342.73,448.90 L343.48,448.97 L344.23,449.04 L344.98,449.11 L345.72,449.17 L346.47,449.23 L347.22,449.29 L347.76,449.33 L347.97,449.34 L348.72,449.39 L349.47,449.44 L350.22,449.49 L350.97,449.54 L351.72,449.59 L352.46,449.65 L353.21,449.69 L353.96,449.74 L354.71,449.79 L355.46,449.84 L356.21,449.88 L356.96,449.93 L357.71,449.97 L358.46,450.01 L359.20,450.05 L359.95,450.08 L360.70,450.12 L361.45,450.15 L362.20,450.17 L362.95,450.20 L363.70,450.22 L364.45,450.24 L365.20,450.26 L365.94,450.27 L366.69,450.28 L367.44,450.28 L367.95,450.28 L368.19,450.28 L368.94,450.28 L369.69,450.28 L370.44,450.28 L371.19,450.28 L371.94,450.28 L372.69,450.28 L373.43,450.28 L374.18,450.28 L374.93,450.27 L375.68,450.27 L376.43,450.27 L377.18,450.27 L377.93,450.26 L378.68,450.26 L379.43,450.26 L380.17,450.25 L380.92,450.25 L381.67,450.25 L382.42,450.24 L383.17,450.24 L383.92,450.23 L384.67,450.23 L385.42,450.22 L386.17,450.22 L386.91,450.21 L387.66,450.21 L388.41,450.20 L389.16,450.20 L389.91,450.19 L390.66,450.18 L391.41,450.18 L392.16,450.17 L392.91,450.16 L393.65,450.16 L394.40,450.15 L395.15,450.14 L395.90,450.14 L396.65,450.13 L397.40,450.12 L398.15,450.11 L398.90,450.10 L399.65,450.09 L400.39,450.09 L401.14,450.08 L401.89,450.07 L402.64,450.06 L403.39,450.05 L403.84,450.04 L404.14,450.04 L404.89,450.03 L405.64,450.01 L406.39,450.00 L407.14,449.98 L407.88,449.96 L408.63,449.93 L409.38,449.91 L410.13,449.88 L410.88,449.85 L411.63,449.82 L412.38,449.78 L413.13,449.75 L413.88,449.71 L414.62,449.67 L415.37,449.63 L416.12,449.58 L416.87,449.54 L417.62,449.49 L418.37,449.44 L419.12,449.39 L419.87,449.34 L420.62,449.29 L421.36,449.23 L422.11,449.18 L422.86,449.12 L423.61,449.06 L424.36,449.00 L425.11,448.94 L425.86,448.88 L426.27,448.85 L426.61,448.82 L427.36,448.75 L428.10,448.68 L428.85,448.60 L429.60,448.51 L430.35,448.42 L431.10,448.32 L431.85,448.22 L432.60,448.10 L433.35,447.99 L434.10,447.86 L434.85,447.73 L435.59,447.59 L436.34,447.45 L437.09,447.30 L437.84,447.14 L438.59,446.97 L439.34,446.80 L440.09,446.62 L440.18,446.60 L440.84,446.42 L441.59,446.18 L442.33,445.90 L443.08,445.60 L443.83,445.26 L444.58,444.90 L445.33,444.53 L446.08,444.13 L446.83,443.73 L447.58,443.31 L448.33,442.89 L449.07,442.47 L449.82,442.05 L450.27,441.81 L450.57,441.64 L451.32,441.25 L452.07,440.87 L452.82,440.49 L453.57,440.11 L454.32,439.72 L455.07,439.31 L455.81,438.88 L456.56,438.41 L457.31,437.89 L458.06,437.33 L458.81,436.71 L459.56,436.02 L460.31,435.26 L460.36,435.20 L461.06,434.29 L461.81,433.00 L462.55,431.44 L463.30,429.65 L464.05,427.68 L464.80,425.60 L465.30,424.18 L465.55,423.43 L466.30,420.96 L467.05,418.17 L467.80,415.10 L468.55,411.81 L469.30,408.32 L469.34,408.13 L470.04,404.57 L470.79,400.43 L471.54,395.98 L472.29,391.28 L473.04,386.39 L473.37,384.18 L473.79,381.40 L474.54,376.24 L475.29,370.79 L476.04,364.88 L476.74,358.79 L476.78,358.36 L477.53,350.43 L478.28,341.26 L479.03,331.89 L479.78,323.35 L480.10,320.19 L480.53,316.27 L481.28,309.60 L482.03,303.54 L482.78,298.49 L483.24,296.05 L483.52,294.74 L484.27,291.33 L485.02,288.46 L485.77,286.72 L486.16,286.47 L486.52,286.64 L487.27,287.96 L488.02,290.21 L488.77,292.96 L489.07,294.13 L489.52,296.13 L490.26,300.74 L491.01,306.38 L491.76,312.49 L492.21,316.16 L492.51,318.63 L493.26,325.51 L494.01,332.97 L494.76,340.55 L495.51,347.79 L496.25,354.20 L496.26,354.23 L497.01,359.33 L497.37,362.15 L497.75,366.21 L498.50,376.70 L499.25,386.66 L499.62,389.93 L500.00,392.34 L500.75,396.06 L501.50,399.08 L502.25,402.12 L502.31,402.38 L503.00,405.56 L503.75,409.16 L504.49,412.75 L505.24,416.15 L505.99,419.20 L506.74,421.73 L507.02,422.50 L507.49,423.69 L508.24,425.40 L508.99,426.94 L509.74,428.31 L510.49,429.53 L511.23,430.64 L511.73,431.32 L511.98,431.65 L512.73,432.59 L513.48,433.46 L514.23,434.28 L514.98,435.05 L515.73,435.76 L516.48,436.43 L517.23,437.05 L517.97,437.64 L518.23,437.83 L518.72,438.19 L519.47,438.73 L520.22,439.25 L520.97,439.76 L521.72,440.25 L522.47,440.72 L523.22,441.17 L523.97,441.60 L524.71,442.01 L525.46,442.40 L526.21,442.77 L526.96,443.10 L527.71,443.42 L528.46,443.70 L528.78,443.82 L529.21,443.97 L529.96,444.22 L530.71,444.45 L531.46,444.68 L532.20,444.90 L532.95,445.11 L533.70,445.31 L534.45,445.50 L535.20,445.68 L535.95,445.86 L536.70,446.03 L537.45,446.19 L538.20,446.35 L538.94,446.50 L539.69,446.64 L540.44,446.78 L541.19,446.92 L541.78,447.03 L541.94,447.05 L542.69,447.18 L543.44,447.31 L544.19,447.44 L544.94,447.57 L545.68,447.69 L546.43,447.81 L547.18,447.93 L547.93,448.04 L548.68,448.16 L549.43,448.27 L550.18,448.37 L550.93,448.48 L551.68,448.58 L552.42,448.68 L553.17,448.78 L553.92,448.87 L554.67,448.96 L555.42,449.05 L556.17,449.13 L556.92,449.21 L557.67,449.28 L558.42,449.36 L559.16,449.43 L559.91,449.49 L560.66,449.55 L560.85,449.57 L561.41,449.61 L562.16,449.67 L562.91,449.72 L563.66,449.78 L564.41,449.83 L565.16,449.88 L565.91,449.93 L566.65,449.98 L567.40,450.03 L568.15,450.08 L568.90,450.13 L569.65,450.18 L570.40,450.22 L571.15,450.26 L571.90,450.31 L572.65,450.35 L573.39,450.39 L574.14,450.42 L574.89,450.46 L575.64,450.50 L576.39,450.53 L577.14,450.56 L577.89,450.59 L578.64,450.62 L579.39,450.65 L580.13,450.67 L580.88,450.70 L581.63,450.72 L582.38,450.74 L583.13,450.76 L583.28,450.76 L583.88,450.78 L584.63,450.79 L585.38,450.81 L586.13,450.83 L586.87,450.84 L587.62,450.86 L588.37,450.87 L589.12,450.89 L589.87,450.90 L590.62,450.92 L591.37,450.93 L592.12,450.95 L592.87,450.96 L593.62,450.97 L594.36,450.98 L595.11,451.00 L595.86,451.01 L596.61,451.02 L597.36,451.03 L598.11,451.04 L598.86,451.05 L599.61,451.06 L600.36,451.08 L601.10,451.09 L601.85,451.10 L602.60,451.10 L603.35,451.11 L604.10,451.12 L604.85,451.13 L605.60,451.14 L606.35,451.15 L607.10,451.16 L607.84,451.16 L608.59,451.17 L609.34,451.18 L610.09,451.19 L610.84,451.19 L611.59,451.20 L612.34,451.21 L613.09,451.21 L613.84,451.22 L614.58,451.22 L615.33,451.23 L616.08,451.24 L616.83,451.24 L616.92,451.24 L617.58,451.25 L618.33,451.25 L619.08,451.26 L619.83,451.26 L620.58,451.27 L621.32,451.27 L622.07,451.28 L622.82,451.28 L623.57,451.29 L624.32,451.29 L625.07,451.30 L625.82,451.30 L626.57,451.31 L627.32,451.31 L628.07,451.32 L628.81,451.32 L629.56,451.33 L630.31,451.33 L631.06,451.33 L631.81,451.34 L632.56,451.34 L633.31,451.35 L634.06,451.35 L634.81,451.36 L635.55,451.36 L636.30,451.37 L637.05,451.37 L637.80,451.37 L638.55,451.38 L639.30,451.38 L640.05,451.39 L640.80,451.39 L641.55,451.39 L642.29,451.40 L643.04,451.40 L643.79,451.40 L644.54,451.41 L645.29,451.41 L646.04,451.41 L646.79,451.42 L647.54,451.42 L648.29,451.42 L649.03,451.43 L649.78,451.43 L650.53,451.43 L651.28,451.44 L652.03,451.44 L652.78,451.44 L653.53,451.45 L654.28,451.45 L655.03,451.45 L655.77,451.45 L656.52,451.46 L657.27,451.46 L658.02,451.46 L658.77,451.46 L659.52,451.46 L660.27,451.47 L661.02,451.47 L661.77,451.47 L662.52,451.47 L663.26,451.47 L664.01,451.47 L664.76,451.47 L665.51,451.48 L666.26,451.48 L667.01,451.48 L667.76,451.48 L668.51,451.48 L669.26,451.48 L670.00,451.48 L670.75,451.48 L671.50,451.48 L672.25,451.48 L673.00,451.48" stroke="#00ff00" stroke-width="1.5" stroke-dasharray="10 4.7 2.5 4.8" stroke-dashoffset="8.5"/>
<path d="M224.40,442.62 L225.15,442.58 L225.90,442.53 L226.65,442.49 L227.40,442.44 L228.14,442.40 L228.89,442.35 L229.64,442.31 L230.39,442.26 L231.14,442.21 L231.89,442.17 L232.64,442.12 L233.39,442.08 L234.14,442.03 L234.88,441.99 L235.63,441.94 L236.38,441.89 L237.13,441.85 L237.88,441.80 L238.63,441.75 L239.38,441.71 L240.10,441.66 L240.13,441.66 L240.88,441.62 L241.63,441.58 L242.37,441.54 L243.12,441.50 L243.87,441.47 L244.62,441.44 L245.37,441.40 L246.12,441.37 L246.87,441.33 L247.62,441.30 L248.37,441.25 L249.11,441.21 L249.86,441.16 L250.61,441.10 L251.36,441.04 L252.11,440.96 L252.86,440.88 L253.56,440.80 L253.61,440.79 L254.36,440.67 L255.11,440.48 L255.85,440.20 L256.60,439.81 L256.70,439.75 L257.35,438.69 L258.10,436.33 L258.85,433.40 L258.94,433.04 L259.60,429.92 L260.35,425.44 L261.10,420.62 L261.41,418.67 L261.85,416.01 L262.59,411.36 L263.34,406.45 L263.65,404.30 L264.09,401.07 L264.84,395.18 L265.59,389.00 L266.34,382.79 L266.34,382.75 L267.09,375.97 L267.84,368.78 L268.59,362.61 L269.04,359.99 L269.33,358.65 L270.08,355.69 L270.83,353.42 L271.50,352.09 L271.58,351.98 L272.33,350.97 L273.08,350.30 L273.52,350.17 L273.83,350.32 L274.58,351.65 L275.09,353.05 L275.33,354.00 L276.08,359.04 L276.21,359.99 L276.82,364.16 L277.57,369.53 L278.32,375.12 L279.07,380.85 L279.82,386.62 L280.25,389.93 L280.57,392.36 L281.32,398.12 L282.07,403.93 L282.82,409.85 L283.56,415.93 L284.06,420.11 L284.31,422.33 L285.06,429.33 L285.41,432.08 L285.81,435.14 L286.31,437.35 L286.56,437.39 L287.31,437.49 L288.06,437.55 L288.81,437.58 L289.45,437.59 L289.56,437.59 L290.30,437.59 L291.05,437.58 L291.80,437.57 L292.55,437.55 L293.30,437.53 L294.05,437.51 L294.80,437.49 L295.55,437.46 L296.30,437.42 L297.04,437.39 L297.79,437.35 L298.54,437.31 L299.29,437.27 L300.04,437.23 L300.79,437.19 L301.54,437.14 L302.29,437.09 L303.04,437.05 L303.78,437.00 L304.53,436.95 L305.28,436.90 L306.03,436.85 L306.78,436.81 L307.53,436.76 L308.28,436.71 L309.03,436.66 L309.78,436.62 L310.53,436.58 L311.27,436.53 L312.02,436.49 L312.77,436.46 L313.52,436.42 L314.12,436.39 L314.27,436.39 L315.02,436.35 L315.77,436.32 L316.52,436.29 L317.27,436.26 L318.01,436.23 L318.76,436.20 L319.51,436.17 L320.26,436.14 L321.01,436.11 L321.76,436.08 L322.51,436.05 L323.26,436.02 L324.01,435.99 L324.75,435.96 L325.50,435.93 L326.25,435.90 L327.00,435.87 L327.75,435.85 L328.50,435.82 L329.25,435.79 L330.00,435.76 L330.75,435.73 L331.49,435.71 L332.24,435.68 L332.99,435.65 L333.74,435.62 L334.49,435.60 L335.24,435.57 L335.99,435.54 L336.74,435.51 L337.49,435.49 L338.24,435.46 L338.98,435.43 L339.73,435.41 L340.48,435.38 L341.23,435.35 L341.98,435.32 L342.73,435.30 L343.48,435.27 L344.23,435.24 L344.98,435.21 L345.72,435.19 L346.47,435.16 L347.22,435.13 L347.97,435.10 L348.72,435.07 L349.47,435.05 L350.22,435.02 L350.97,434.99 L351.72,434.96 L352.46,434.93 L353.21,434.90 L353.96,434.87 L354.71,434.84 L355.46,434.81 L356.21,434.78 L356.96,434.75 L357.71,434.72 L358.46,434.69 L359.20,434.66 L359.95,434.63 L360.10,434.62 L360.70,434.60 L361.45,434.56 L362.20,434.53 L362.95,434.50 L363.70,434.47 L364.45,434.43 L365.20,434.40 L365.94,434.37 L366.69,434.33 L367.44,434.30 L368.19,434.27 L368.94,434.23 L369.69,434.20 L370.44,434.17 L371.19,434.13 L371.94,434.10 L372.69,434.06 L373.43,434.03 L374.18,434.00 L374.93,433.96 L375.68,433.93 L376.43,433.89 L377.18,433.86 L377.93,433.82 L378.68,433.79 L379.43,433.75 L380.17,433.72 L380.92,433.68 L381.67,433.65 L382.42,433.61 L383.17,433.57 L383.92,433.54 L384.67,433.50 L385.42,433.47 L386.17,433.43 L386.91,433.39 L387.66,433.36 L388.41,433.32 L389.16,433.29 L389.91,433.25 L390.66,433.21 L391.41,433.18 L392.16,433.14 L392.91,433.10 L393.65,433.07 L394.40,433.03 L395.15,432.99 L395.90,432.95 L396.65,432.92 L397.40,432.88 L398.15,432.84 L398.90,432.81 L399.65,432.77 L400.39,432.73 L401.14,432.70 L401.89,432.66 L402.64,432.62 L403.39,432.58 L403.84,432.56 L404.14,432.55 L404.89,432.51 L405.64,432.47 L406.39,432.44 L407.14,432.41 L407.88,432.37 L408.63,432.34 L409.38,432.31 L410.13,432.28 L410.88,432.25 L411.63,432.22 L412.38,432.19 L413.13,432.16 L413.88,432.13 L414.62,432.10 L415.37,432.07 L416.12,432.04 L416.87,432.01 L417.62,431.98 L418.37,431.95 L419.12,431.92 L419.87,431.89 L420.62,431.85 L421.36,431.82 L422.11,431.79 L422.86,431.76 L423.61,431.72 L424.36,431.69 L425.11,431.65 L425.86,431.62 L426.61,431.58 L427.36,431.54 L428.10,431.50 L428.85,431.46 L429.60,431.42 L430.35,431.37 L431.10,431.33 L431.85,431.28 L432.60,431.23 L433.35,431.18 L434.10,431.13 L434.85,431.08 L435.59,431.03 L436.34,430.97 L437.09,430.91 L437.84,430.85 L438.59,430.79 L439.34,430.72 L440.09,430.65 L440.18,430.64 L440.84,430.58 L441.59,430.50 L442.33,430.41 L443.08,430.31 L443.83,430.20 L444.58,430.07 L445.33,429.93 L446.08,429.77 L446.83,429.59 L447.58,429.40 L448.25,429.21 L448.33,429.19 L449.07,428.91 L449.82,428.55 L450.57,428.10 L451.32,427.58 L452.07,426.97 L452.82,426.28 L453.57,425.53 L454.32,424.70 L454.76,424.18 L455.07,423.77 L455.81,422.55 L456.56,421.01 L457.31,419.18 L458.06,417.09 L458.81,414.79 L459.02,414.12 L459.56,412.02 L460.31,408.26 L461.06,403.95 L461.81,399.55 L462.55,395.53 L462.83,394.24 L463.30,392.10 L464.05,388.65 L464.80,385.40 L465.55,382.61 L466.30,380.59 L466.42,380.35 L467.05,379.21 L467.80,378.01 L468.55,377.21 L469.11,377.00 L469.30,377.03 L470.04,377.67 L470.79,378.95 L471.54,380.60 L472.25,382.27 L472.29,382.36 L473.04,384.50 L473.79,387.29 L474.54,390.51 L475.29,393.98 L476.04,397.50 L476.78,400.88 L477.53,403.92 L477.63,404.30 L478.28,406.69 L479.03,409.50 L479.78,412.29 L480.53,415.00 L481.28,417.57 L482.03,419.94 L482.78,422.05 L483.52,423.83 L483.69,424.18 L484.27,425.35 L485.02,426.80 L485.77,428.17 L486.52,429.44 L487.27,430.57 L488.02,431.55 L488.77,432.33 L489.52,432.91 L489.75,433.04 L490.26,433.30 L491.01,433.66 L491.76,434.00 L492.51,434.32 L493.26,434.60 L494.01,434.86 L494.76,435.08 L495.51,435.26 L496.26,435.41 L497.01,435.51 L497.75,435.57 L498.27,435.58 L498.50,435.58 L499.25,435.55 L500.00,435.49 L500.75,435.41 L501.50,435.31 L502.25,435.18 L503.00,435.05 L503.75,434.91 L504.49,434.77 L504.77,434.72 L505.24,434.61 L505.99,434.37 L506.74,434.06 L507.49,433.73 L508.24,433.39 L508.99,433.08 L509.74,432.81 L510.49,432.63 L511.23,432.56 L511.28,432.56 L511.98,432.62 L512.73,432.79 L513.48,433.05 L514.23,433.34 L514.98,433.64 L515.73,433.92 L515.99,434.00 L516.48,434.14 L517.23,434.36 L517.97,434.57 L518.72,434.78 L519.47,434.99 L520.22,435.21 L520.48,435.29 L520.97,435.45 L521.72,435.72 L522.47,436.01 L523.22,436.32 L523.97,436.64 L524.71,436.97 L525.46,437.30 L526.21,437.62 L526.96,437.92 L527.71,438.19 L528.46,438.44 L529.21,438.65 L529.96,438.81 L530.71,438.92 L531.46,438.98 L531.69,438.98 L532.20,438.97 L532.95,438.94 L533.70,438.89 L534.45,438.81 L535.20,438.73 L535.95,438.63 L536.70,438.53 L537.45,438.43 L538.20,438.34 L538.42,438.31 L538.94,438.24 L539.69,438.13 L540.44,438.00 L541.19,437.86 L541.94,437.71 L542.69,437.56 L543.44,437.41 L544.19,437.27 L544.94,437.15 L545.68,437.04 L546.43,436.95 L547.18,436.90 L547.93,436.87 L548.06,436.87 L548.68,436.87 L549.43,436.87 L550.18,436.87 L550.93,436.87 L551.68,436.87 L552.42,436.87 L553.17,436.87 L553.92,436.87 L554.67,436.87 L555.42,436.87 L556.17,436.87 L556.92,436.87 L557.67,436.87 L558.42,436.87 L559.16,436.87 L559.91,436.87 L560.66,436.87 L561.41,436.87 L562.16,436.87 L562.91,436.87 L563.66,436.87 L564.21,436.87 L564.41,436.87 L565.16,436.89 L565.91,436.91 L566.65,436.95 L567.40,437.01 L568.15,437.07 L568.90,437.15 L569.65,437.23 L570.40,437.32 L571.15,437.42 L571.90,437.52 L572.65,437.62 L573.39,437.73 L574.14,437.83 L574.89,437.93 L575.64,438.03 L576.39,438.13 L577.14,438.22 L577.89,438.30 L578.64,438.38 L579.39,438.45 L580.13,438.50 L580.14,438.50 L580.88,438.55 L581.63,438.59 L582.38,438.64 L583.13,438.68 L583.88,438.72 L584.63,438.76 L585.38,438.80 L586.13,438.83 L586.87,438.87 L587.62,438.90 L588.37,438.94 L589.12,438.97 L589.87,439.00 L590.62,439.03 L591.37,439.06 L592.12,439.10 L592.87,439.13 L593.62,439.16 L594.36,439.19 L595.11,439.22 L595.86,439.25 L596.29,439.27 L596.61,439.28 L597.36,439.31 L598.11,439.34 L598.86,439.37 L599.61,439.41 L600.36,439.44 L601.10,439.47 L601.85,439.50 L602.60,439.53 L603.35,439.56 L604.10,439.59 L604.85,439.62 L605.60,439.65 L606.35,439.68 L607.10,439.71 L607.84,439.74 L608.59,439.77 L609.34,439.80 L610.09,439.83 L610.84,439.86 L611.59,439.88 L612.34,439.91 L613.09,439.94 L613.84,439.96 L614.58,439.99 L615.33,440.02 L616.08,440.04 L616.83,440.07 L617.58,440.09 L618.33,440.11 L619.08,440.14 L619.83,440.16 L620.58,440.18 L621.32,440.20 L622.07,440.22 L622.08,440.22 L622.82,440.25 L623.57,440.27 L624.32,440.29 L625.07,440.31 L625.82,440.33 L626.57,440.35 L627.32,440.37 L628.07,440.39 L628.81,440.41 L629.56,440.43 L630.31,440.45 L631.06,440.47 L631.81,440.49 L632.56,440.50 L633.31,440.52 L634.06,440.54 L634.81,440.56 L635.55,440.58 L636.30,440.60 L637.05,440.62 L637.80,440.64 L638.55,440.66 L639.30,440.67 L640.05,440.69 L640.80,440.71 L641.55,440.73 L642.29,440.75 L643.04,440.76 L643.79,440.78 L644.54,440.80 L645.29,440.81 L646.04,440.83 L646.79,440.85 L647.54,440.86 L648.29,440.88 L649.03,440.90 L649.78,440.91 L650.53,440.93 L651.28,440.94 L652.03,440.96 L652.78,440.97 L653.53,440.99 L654.28,441.00 L655.03,441.02 L655.77,441.03 L656.52,441.04 L657.27,441.06 L658.02,441.07 L658.77,441.08 L659.52,441.10 L660.27,441.11 L661.02,441.12 L661.77,441.13 L662.52,441.15 L663.26,441.16 L664.01,441.17 L664.76,441.18 L665.51,441.19 L666.26,441.20 L667.01,441.21 L667.76,441.22 L668.51,441.23 L669.26,441.24 L670.00,441.25 L670.75,441.26 L671.50,441.26 L672.25,441.27 L673.00,441.28" stroke="#ff0000" stroke-width="1.55" stroke-dasharray="9.3 4.3" stroke-dashoffset="0.8"/>
<path d="M224.40,452.20 L224.90,452.20 L225.40,452.20 L225.90,452.20 L226.40,452.20 L226.89,452.20 L227.39,452.20 L227.89,452.20 L228.39,452.20 L228.89,452.20 L229.39,452.20 L229.89,452.20 L230.39,452.20 L230.89,452.20 L231.39,452.20 L231.88,452.20 L232.38,452.20 L232.88,452.20 L233.38,452.20 L233.88,452.20 L234.38,452.20 L234.88,452.20 L235.38,452.20 L235.88,452.20 L236.38,452.20 L236.87,452.20 L237.37,452.20 L237.87,452.20 L238.37,452.20 L238.87,452.20 L239.37,452.20 L239.87,452.20 L240.37,452.20 L240.87,452.20 L241.37,452.20 L241.86,452.20 L242.36,452.20 L242.86,452.20 L243.36,452.20 L243.86,452.20 L244.36,452.20 L244.86,452.20 L245.36,452.20 L245.86,452.20 L246.36,452.20 L246.85,452.20 L247.35,452.20 L247.85,452.20 L248.35,452.20 L248.85,452.20 L249.35,452.20 L249.85,452.20 L250.35,452.20 L250.85,452.20 L251.35,452.20 L251.84,452.20 L252.34,452.20 L252.84,452.20 L253.34,452.20 L253.84,452.20 L254.34,452.20 L254.84,452.20 L255.34,452.20 L255.80,452.20 L255.84,452.20 L256.34,452.19 L256.83,452.18 L257.33,452.15 L257.83,452.11 L258.33,452.07 L258.83,452.02 L259.33,451.96 L259.83,451.89 L260.33,451.82 L260.83,451.74 L260.96,451.72 L261.33,451.64 L261.82,451.49 L262.32,451.28 L262.82,451.02 L263.32,450.74 L263.82,450.43 L264.32,450.10 L264.77,449.81 L264.82,449.78 L265.32,449.40 L265.82,448.97 L266.32,448.49 L266.81,447.97 L267.31,447.44 L267.81,446.90 L268.31,446.38 L268.81,445.89 L269.26,445.49 L269.31,445.45 L269.81,445.00 L270.31,444.52 L270.81,444.02 L271.31,443.53 L271.80,443.06 L272.30,442.64 L272.80,442.28 L273.30,442.01 L273.80,441.85 L274.19,441.81 L274.30,441.81 L274.80,441.92 L275.30,442.17 L275.80,442.52 L276.30,442.97 L276.79,443.47 L277.29,444.01 L277.79,444.56 L278.29,445.10 L278.68,445.49 L278.79,445.60 L279.29,446.17 L279.79,446.81 L280.29,447.50 L280.79,448.19 L281.29,448.86 L281.78,449.46 L282.28,449.96 L282.72,450.28 L282.78,450.32 L283.28,450.63 L283.78,450.92 L284.28,451.18 L284.78,451.42 L285.28,451.63 L285.78,451.79 L286.28,451.91 L286.76,451.96 L286.77,451.96 L287.27,451.99 L287.77,452.01 L288.27,452.04 L288.77,452.06 L289.27,452.08 L289.77,452.09 L290.27,452.11 L290.77,452.13 L291.27,452.14 L291.76,452.15 L292.26,452.16 L292.76,452.17 L293.26,452.18 L293.76,452.19 L294.26,452.19 L294.76,452.20 L295.26,452.20 L295.76,452.20 L296.18,452.20 L296.26,452.20 L296.75,452.20 L297.25,452.20 L297.75,452.20 L298.25,452.20 L298.75,452.20 L299.25,452.20 L299.75,452.20 L300.25,452.20 L300.75,452.20 L301.25,452.20 L301.74,452.20 L302.24,452.20 L302.74,452.20 L303.24,452.20 L303.74,452.20 L304.24,452.20 L304.74,452.20 L305.24,452.20 L305.74,452.19 L306.24,452.19 L306.73,452.19 L307.23,452.19 L307.73,452.19 L308.23,452.19 L308.73,452.19 L309.23,452.19 L309.73,452.19 L310.23,452.19 L310.73,452.19 L311.23,452.19 L311.72,452.19 L312.22,452.19 L312.72,452.18 L313.22,452.18 L313.72,452.18 L314.22,452.18 L314.72,452.18 L315.22,452.18 L315.72,452.18 L316.22,452.18 L316.71,452.18 L317.21,452.17 L317.71,452.17 L318.21,452.17 L318.71,452.17 L319.21,452.17 L319.71,452.17 L320.21,452.17 L320.71,452.17 L321.21,452.16 L321.70,452.16 L322.20,452.16 L322.70,452.16 L323.20,452.16 L323.70,452.16 L324.20,452.15 L324.70,452.15 L325.20,452.15 L325.70,452.15 L326.20,452.15 L326.69,452.15 L327.19,452.14 L327.69,452.14 L328.19,452.14 L328.69,452.14 L329.19,452.14 L329.69,452.13 L330.19,452.13 L330.69,452.13 L331.19,452.13 L331.68,452.13 L332.18,452.12 L332.68,452.12 L333.18,452.12 L333.68,452.12 L334.18,452.11 L334.68,452.11 L335.18,452.11 L335.68,452.11 L336.18,452.11 L336.67,452.10 L337.17,452.10 L337.67,452.10 L338.17,452.10 L338.67,452.09 L339.17,452.09 L339.67,452.09 L340.17,452.09 L340.67,452.08 L341.17,452.08 L341.66,452.08 L342.16,452.07 L342.66,452.07 L343.16,452.07 L343.66,452.07 L344.16,452.06 L344.66,452.06 L345.16,452.06 L345.66,452.05 L346.16,452.05 L346.65,452.05 L347.15,452.04 L347.65,452.04 L348.15,452.04 L348.65,452.03 L349.15,452.03 L349.65,452.03 L350.15,452.02 L350.65,452.02 L351.15,452.02 L351.64,452.01 L352.14,452.01 L352.64,452.01 L353.14,452.00 L353.64,452.00 L354.14,452.00 L354.64,451.99 L355.14,451.99 L355.64,451.99 L356.14,451.98 L356.63,451.98 L357.13,451.97 L357.63,451.97 L358.13,451.97 L358.63,451.96 L358.98,451.96 L359.13,451.96 L359.63,451.95 L360.13,451.95 L360.63,451.94 L361.13,451.93 L361.62,451.93 L362.12,451.92 L362.62,451.90 L363.12,451.89 L363.62,451.88 L364.12,451.87 L364.62,451.85 L365.12,451.84 L365.62,451.82 L366.12,451.81 L366.61,451.79 L367.11,451.77 L367.61,451.76 L368.11,451.74 L368.61,451.72 L369.11,451.70 L369.61,451.68 L370.11,451.66 L370.61,451.64 L371.11,451.62 L371.60,451.60 L372.10,451.58 L372.60,451.56 L373.10,451.54 L373.60,451.52 L374.10,451.49 L374.60,451.47 L375.10,451.45 L375.60,451.43 L376.10,451.41 L376.59,451.39 L377.09,451.37 L377.59,451.34 L378.09,451.32 L378.59,451.30 L379.09,451.28 L379.59,451.26 L380.06,451.24 L380.09,451.24 L380.59,451.22 L381.09,451.20 L381.58,451.18 L382.08,451.16 L382.58,451.14 L383.08,451.12 L383.58,451.10 L384.08,451.08 L384.58,451.05 L385.08,451.03 L385.58,451.01 L386.08,450.99 L386.57,450.97 L387.07,450.94 L387.57,450.92 L388.07,450.90 L388.57,450.88 L389.07,450.85 L389.57,450.83 L390.07,450.81 L390.57,450.78 L391.07,450.76 L391.56,450.73 L392.06,450.71 L392.56,450.68 L393.06,450.66 L393.56,450.63 L394.06,450.61 L394.56,450.58 L395.06,450.56 L395.56,450.53 L396.06,450.50 L396.55,450.48 L397.05,450.45 L397.55,450.42 L398.05,450.40 L398.55,450.37 L399.05,450.34 L399.55,450.31 L400.03,450.28 L400.05,450.28 L400.55,450.25 L401.05,450.23 L401.54,450.20 L402.04,450.17 L402.54,450.14 L403.04,450.11 L403.54,450.08 L404.04,450.05 L404.54,450.02 L405.04,449.99 L405.54,449.96 L406.04,449.93 L406.53,449.90 L407.03,449.87 L407.53,449.83 L408.03,449.80 L408.53,449.77 L409.03,449.74 L409.53,449.70 L410.03,449.67 L410.53,449.63 L411.03,449.60 L411.52,449.56 L412.02,449.53 L412.52,449.49 L413.02,449.46 L413.52,449.42 L414.02,449.38 L414.52,449.34 L415.02,449.30 L415.52,449.26 L416.02,449.22 L416.51,449.18 L417.01,449.14 L417.51,449.09 L418.01,449.05 L418.51,449.01 L419.01,448.96 L419.51,448.91 L420.01,448.87 L420.21,448.85 L420.51,448.82 L421.01,448.77 L421.50,448.72 L422.00,448.67 L422.50,448.62 L423.00,448.56 L423.50,448.51 L424.00,448.46 L424.50,448.40 L425.00,448.34 L425.50,448.28 L426.00,448.22 L426.49,448.16 L426.99,448.10 L427.49,448.03 L427.99,447.96 L428.49,447.90 L428.99,447.83 L429.49,447.75 L429.99,447.68 L430.49,447.60 L430.99,447.53 L431.48,447.45 L431.98,447.37 L432.48,447.28 L432.98,447.19 L433.48,447.11 L433.98,447.02 L434.48,446.92 L434.98,446.83 L435.48,446.73 L435.98,446.63 L436.14,446.60 L436.47,446.53 L436.97,446.42 L437.47,446.30 L437.97,446.18 L438.47,446.06 L438.97,445.92 L439.47,445.78 L439.97,445.64 L440.47,445.49 L440.97,445.33 L441.46,445.16 L441.96,444.99 L442.46,444.81 L442.96,444.62 L443.46,444.43 L443.96,444.22 L444.46,444.01 L444.96,443.79 L445.46,443.57 L445.96,443.33 L446.23,443.19 L446.45,443.08 L446.95,442.82 L447.45,442.53 L447.95,442.22 L448.45,441.88 L448.95,441.52 L449.45,441.13 L449.95,440.71 L450.45,440.26 L450.95,439.77 L451.44,439.26 L451.94,438.71 L452.29,438.31 L452.44,438.12 L452.94,437.45 L453.44,436.68 L453.94,435.81 L454.44,434.83 L454.94,433.75 L455.44,432.56 L455.94,431.26 L456.33,430.17 L456.43,429.84 L456.93,428.17 L457.43,426.17 L457.93,423.85 L458.43,421.22 L458.93,418.27 L459.24,416.27 L459.43,414.95 L459.93,410.59 L460.43,405.40 L460.93,399.86 L461.26,396.16 L461.42,394.37 L461.92,388.71 L462.42,382.80 L462.92,376.69 L463.28,372.21 L463.42,370.44 L463.92,364.04 L464.20,360.00 L464.42,356.58 L464.92,348.23 L465.42,339.21 L465.92,329.61 L466.41,319.51 L466.91,308.99 L467.41,298.13 L467.91,287.01 L468.41,275.73 L468.91,264.35 L469.10,260.00 L469.41,252.78 L469.91,240.45 L470.41,227.51 L470.91,214.23 L471.40,200.82 L471.90,187.55 L472.40,174.64 L472.90,162.34 L473.00,160.00 L473.40,150.40 L473.90,138.47 L474.40,127.56 L474.80,120.20 L474.90,118.62 L475.40,110.84 L475.90,103.71 L476.39,97.49 L476.89,92.43 L477.20,90.00 L477.39,88.65 L477.89,85.22 L478.39,82.16 L478.89,79.81 L479.39,78.54 L479.60,78.40 L479.89,78.61 L480.39,79.84 L480.89,81.97 L481.38,84.75 L481.88,87.91 L482.20,90.00 L482.38,91.33 L482.88,96.09 L483.38,102.17 L483.88,109.19 L484.38,116.76 L484.60,120.20 L484.88,124.83 L485.38,134.43 L485.88,144.93 L486.37,155.46 L486.60,160.00 L486.87,165.40 L487.37,175.39 L487.87,185.50 L488.37,195.65 L488.87,205.76 L489.37,215.75 L489.87,225.53 L490.37,235.03 L490.87,244.16 L491.36,252.85 L491.80,260.00 L491.86,261.01 L492.36,268.87 L492.86,276.58 L493.36,284.14 L493.86,291.55 L494.36,298.79 L494.86,305.85 L495.36,312.74 L495.86,319.44 L496.35,325.94 L496.85,332.25 L497.35,338.34 L497.85,344.22 L498.35,349.88 L498.85,355.30 L499.30,360.00 L499.35,360.49 L499.85,365.47 L500.35,370.23 L500.85,374.73 L501.34,378.94 L501.84,382.82 L502.31,386.10 L502.34,386.33 L502.84,389.41 L503.34,392.16 L503.84,394.77 L504.10,396.16 L504.34,397.43 L504.84,400.15 L505.34,402.88 L505.84,405.58 L506.33,408.19 L506.83,410.67 L507.33,412.95 L507.83,415.00 L507.92,415.32 L508.33,416.83 L508.83,418.58 L509.33,420.24 L509.83,421.81 L510.33,423.30 L510.83,424.72 L511.32,426.05 L511.82,427.32 L512.32,428.51 L512.82,429.63 L512.85,429.69 L513.32,430.69 L513.82,431.71 L514.32,432.68 L514.82,433.61 L515.32,434.49 L515.82,435.32 L516.31,436.10 L516.81,436.83 L517.31,437.51 L517.56,437.83 L517.81,438.14 L518.31,438.75 L518.81,439.33 L519.31,439.90 L519.81,440.44 L520.31,440.96 L520.81,441.45 L521.30,441.93 L521.80,442.37 L522.30,442.79 L522.80,443.19 L523.30,443.55 L523.80,443.89 L524.06,444.06 L524.30,444.20 L524.80,444.50 L525.30,444.79 L525.80,445.07 L526.29,445.33 L526.79,445.59 L527.29,445.84 L527.79,446.08 L528.29,446.30 L528.79,446.52 L529.29,446.72 L529.79,446.91 L530.29,447.09 L530.79,447.26 L531.28,447.41 L531.78,447.56 L532.14,447.65 L532.28,447.69 L532.78,447.81 L533.28,447.93 L533.78,448.05 L534.28,448.16 L534.78,448.27 L535.28,448.38 L535.78,448.49 L536.27,448.59 L536.77,448.69 L537.27,448.78 L537.77,448.87 L538.27,448.96 L538.77,449.04 L539.27,449.13 L539.77,449.20 L540.27,449.28 L540.77,449.35 L541.26,449.42 L541.76,449.48 L542.26,449.54 L542.76,449.60 L543.26,449.65 L543.76,449.70 L544.26,449.75 L544.76,449.79 L544.92,449.81 L545.26,449.83 L545.76,449.87 L546.25,449.91 L546.75,449.94 L547.25,449.98 L547.75,450.01 L548.25,450.04 L548.75,450.07 L549.25,450.11 L549.75,450.14 L550.25,450.16 L550.75,450.19 L551.24,450.22 L551.74,450.25 L552.24,450.27 L552.74,450.30 L553.24,450.32 L553.74,450.34 L554.24,450.37 L554.74,450.39 L555.24,450.41 L555.74,450.43 L556.23,450.45 L556.73,450.47 L557.23,450.49 L557.73,450.51 L558.23,450.53 L558.73,450.55 L559.23,450.57 L559.73,450.59 L560.23,450.61 L560.73,450.63 L561.22,450.65 L561.72,450.67 L562.22,450.69 L562.72,450.71 L563.22,450.72 L563.72,450.74 L564.21,450.76 L564.22,450.76 L564.72,450.78 L565.22,450.80 L565.72,450.82 L566.21,450.84 L566.71,450.86 L567.21,450.88 L567.71,450.90 L568.21,450.92 L568.71,450.94 L569.21,450.96 L569.71,450.98 L570.21,451.00 L570.71,451.02 L571.20,451.04 L571.70,451.06 L572.20,451.07 L572.70,451.09 L573.20,451.11 L573.70,451.13 L574.20,451.15 L574.70,451.17 L575.20,451.19 L575.70,451.20 L576.19,451.22 L576.69,451.24 L577.19,451.26 L577.69,451.28 L578.19,451.29 L578.69,451.31 L579.19,451.33 L579.69,451.34 L580.19,451.36 L580.69,451.38 L581.18,451.39 L581.68,451.41 L582.18,451.43 L582.68,451.44 L583.18,451.46 L583.68,451.47 L584.18,451.49 L584.68,451.50 L585.18,451.51 L585.68,451.53 L586.17,451.54 L586.67,451.56 L587.17,451.57 L587.67,451.58 L588.17,451.59 L588.67,451.61 L589.17,451.62 L589.67,451.63 L590.17,451.64 L590.67,451.65 L591.16,451.66 L591.66,451.67 L592.16,451.68 L592.66,451.69 L593.16,451.70 L593.66,451.71 L594.16,451.72 L594.50,451.72 L594.66,451.72 L595.16,451.73 L595.66,451.74 L596.15,451.75 L596.65,451.75 L597.15,451.76 L597.65,451.77 L598.15,451.77 L598.65,451.78 L599.15,451.79 L599.65,451.80 L600.15,451.80 L600.65,451.81 L601.14,451.82 L601.64,451.82 L602.14,451.83 L602.64,451.83 L603.14,451.84 L603.64,451.85 L604.14,451.85 L604.64,451.86 L605.14,451.87 L605.64,451.87 L606.13,451.88 L606.63,451.88 L607.13,451.89 L607.63,451.89 L608.13,451.90 L608.63,451.90 L609.13,451.91 L609.63,451.91 L610.13,451.92 L610.63,451.93 L611.12,451.93 L611.62,451.94 L612.12,451.94 L612.62,451.94 L613.12,451.95 L613.62,451.95 L614.12,451.96 L614.62,451.96 L615.12,451.97 L615.62,451.97 L616.11,451.98 L616.61,451.98 L617.11,451.98 L617.61,451.99 L618.11,451.99 L618.61,452.00 L619.11,452.00 L619.61,452.00 L620.11,452.01 L620.61,452.01 L621.10,452.01 L621.60,452.02 L622.10,452.02 L622.60,452.02 L623.10,452.03 L623.60,452.03 L624.10,452.03 L624.60,452.04 L625.10,452.04 L625.60,452.04 L626.09,452.05 L626.59,452.05 L627.09,452.05 L627.59,452.05 L628.09,452.06 L628.14,452.06 L628.59,452.06 L629.09,452.06 L629.59,452.06 L630.09,452.07 L630.59,452.07 L631.08,452.07 L631.58,452.07 L632.08,452.08 L632.58,452.08 L633.08,452.08 L633.58,452.08 L634.08,452.09 L634.58,452.09 L635.08,452.09 L635.58,452.09 L636.07,452.09 L636.57,452.10 L637.07,452.10 L637.57,452.10 L638.07,452.10 L638.57,452.11 L639.07,452.11 L639.57,452.11 L640.07,452.11 L640.57,452.12 L641.06,452.12 L641.56,452.12 L642.06,452.12 L642.56,452.12 L643.06,452.13 L643.56,452.13 L644.06,452.13 L644.56,452.13 L645.06,452.13 L645.56,452.14 L646.05,452.14 L646.55,452.14 L647.05,452.14 L647.55,452.14 L648.05,452.15 L648.55,452.15 L649.05,452.15 L649.55,452.15 L650.05,452.15 L650.55,452.16 L651.04,452.16 L651.54,452.16 L652.04,452.16 L652.54,452.16 L653.04,452.16 L653.54,452.17 L654.04,452.17 L654.54,452.17 L655.04,452.17 L655.54,452.17 L656.03,452.17 L656.53,452.18 L657.03,452.18 L657.53,452.18 L658.03,452.18 L658.53,452.18 L659.03,452.18 L659.53,452.18 L660.03,452.18 L660.53,452.19 L661.02,452.19 L661.52,452.19 L662.02,452.19 L662.52,452.19 L663.02,452.19 L663.52,452.19 L664.02,452.19 L664.52,452.19 L665.02,452.19 L665.52,452.19 L666.01,452.20 L666.51,452.20 L667.01,452.20 L667.51,452.20 L668.01,452.20 L668.51,452.20 L669.01,452.20 L669.51,452.20 L670.01,452.20 L670.51,452.20 L671.00,452.20 L671.50,452.20 L672.00,452.20 L672.50,452.20 L673.00,452.20" stroke="#000000" stroke-width="1.65"/>
</g>
<g>
<text x="224.4" y="468.4" font-size="11.8" text-anchor="middle" fill="#1c1c1c" textLength="6.2" lengthAdjust="spacingAndGlyphs">0</text>
<text x="336.6" y="468.4" font-size="11.8" text-anchor="middle" fill="#1c1c1c" textLength="6.2" lengthAdjust="spacingAndGlyphs">5</text>
<text x="448.7" y="468.4" font-size="11.8" text-anchor="middle" fill="#1c1c1c" textLength="12.8" lengthAdjust="spacingAndGlyphs">10</text>
<text x="560.9" y="468.4" font-size="11.8" text-anchor="middle" fill="#1c1c1c" textLength="12.8" lengthAdjust="spacingAndGlyphs">15</text>
<text x="673.0" y="468.4" font-size="11.8" text-anchor="middle" fill="#1c1c1c" textLength="12.8" lengthAdjust="spacingAndGlyphs">20</text>
<text x="218.0" y="456.1" font-size="11.8" text-anchor="end" fill="#1c1c1c" textLength="6.2" lengthAdjust="spacingAndGlyphs">0</text>
<text x="218.0" y="408.2" font-size="11.8" text-anchor="end" fill="#1c1c1c" textLength="16.2" lengthAdjust="spacingAndGlyphs">0.1</text>
<text x="218.0" y="360.3" font-size="11.8" text-anchor="end" fill="#1c1c1c" textLength="16.2" lengthAdjust="spacingAndGlyphs">0.2</text>
<text x="218.0" y="312.4" font-size="11.8" text-anchor="end" fill="#1c1c1c" textLength="16.2" lengthAdjust="spacingAndGlyphs">0.3</text>
<text x="218.0" y="264.5" font-size="11.8" text-anchor="end" fill="#1c1c1c" textLength="16.2" lengthAdjust="spacingAndGlyphs">0.4</text>
<text x="218.0" y="216.6" font-size="11.8" text-anchor="end" fill="#1c1c1c" textLength="16.2" lengthAdjust="spacingAndGlyphs">0.5</text>
<text x="218.0" y="168.7" font-size="11.8" text-anchor="end" fill="#1c1c1c" textLength="16.2" lengthAdjust="spacingAndGlyphs">0.6</text>
<text x="218.0" y="120.8" font-size="11.8" text-anchor="end" fill="#1c1c1c" textLength="16.2" lengthAdjust="spacingAndGlyphs">0.7</text>
<text x="218.0" y="72.9" font-size="11.8" text-anchor="end" fill="#1c1c1c" textLength="16.2" lengthAdjust="spacingAndGlyphs">0.8</text>
<text x="218.0" y="25.0" font-size="11.8" text-anchor="end" fill="#1c1c1c" textLength="16.2" lengthAdjust="spacingAndGlyphs">0.9</text>
</g>
<text x="253.0" y="29.6" font-size="11.9" text-anchor="start" fill="#1c1c1c" textLength="77.8" lengthAdjust="spacingAndGlyphs">G032.74&#8722;0.07</text>
<!-- parallax bar -->
<path d="M365.6,40.1 H463.6" stroke="#808080" stroke-width="1.3" stroke-dasharray="1.3 2.3" fill="none"/>
<path d="M380.2,40.1 H428.9" stroke="#7a7a7a" stroke-width="1.4" fill="none"/>
<text x="402.4" y="48" font-size="12.5" font-style="italic" text-anchor="middle" fill="#1c1c1c">&#960;</text>
<!-- legend -->
<g fill="none">
<path d="M527.6,25.9 H570.6" stroke="#ff0000" stroke-width="1.55" stroke-dasharray="9.5 4.2"/>
<path d="M525,48.6 H570.4" stroke="#00ff00" stroke-width="1.5" stroke-dasharray="2.3 4.7 10.2 4.8"/>
<path d="M523.8,71.2 H570.2" stroke="#00ffff" stroke-width="1.25" stroke-dasharray="1.45 2.3"/>
<path d="M524.5,93.5 H570.1" stroke="#3636ff" stroke-width="1"/>
<path d="M524.2,116 H570.4" stroke="#1a1aff" stroke-width="1.45" stroke-dasharray="1.6 2.15"/>
<path d="M524.4,146.9 H570" stroke="#000" stroke-width="1.7"/>
</g>
<text x="583.1" y="30" font-size="12.2" text-anchor="start" fill="#ff0000" textLength="26.6" lengthAdjust="spacingAndGlyphs">Prob</text>
<text x="610.4" y="33.2" font-size="7.6" text-anchor="start" fill="#ff0000" textLength="9.4" lengthAdjust="spacingAndGlyphs" font-weight="bold">SA</text>
<text x="583.1" y="52" font-size="12.2" text-anchor="start" fill="#00ff00" textLength="26.6" lengthAdjust="spacingAndGlyphs">Prob</text>
<text x="610.4" y="55.2" font-size="7.6" text-anchor="start" fill="#00ff00" textLength="10.4" lengthAdjust="spacingAndGlyphs" font-weight="bold">KD</text>
<text x="583.1" y="74.8" font-size="12.2" text-anchor="start" fill="#00ffff" textLength="26.8" lengthAdjust="spacingAndGlyphs" font-weight="bold">Prob</text>
<text x="610.6" y="78" font-size="7.6" text-anchor="start" fill="#00ffff" textLength="10" lengthAdjust="spacingAndGlyphs" font-weight="bold">PS</text>
<text x="583.1" y="97" font-size="12.2" text-anchor="start" fill="#1a1aff" textLength="26.6" lengthAdjust="spacingAndGlyphs">Prob</text>
<text x="610.4" y="100.2" font-size="7.6" text-anchor="start" fill="#1a1aff" textLength="11.5" lengthAdjust="spacingAndGlyphs" font-weight="bold">PM</text>
<text x="623" y="97" font-size="12.2" text-anchor="start" fill="#1a1aff" textLength="32.2" lengthAdjust="spacingAndGlyphs">(long)</text>
<text x="583.1" y="119.5" font-size="12.2" text-anchor="start" fill="#1a1aff" textLength="26.6" lengthAdjust="spacingAndGlyphs">Prob</text>
<text x="610.4" y="122.7" font-size="7.6" text-anchor="start" fill="#1a1aff" textLength="11.5" lengthAdjust="spacingAndGlyphs" font-weight="bold">PM</text>
<text x="623" y="119.5" font-size="12.2" text-anchor="start" fill="#1a1aff" textLength="23.8" lengthAdjust="spacingAndGlyphs">(lat)</text>
<text x="583.1" y="150.5" font-size="12.2" text-anchor="start" fill="#111" textLength="56.7" lengthAdjust="spacingAndGlyphs">Combined</text>
<!-- arm labels -->
<path d="M264.9,473.0 H277.7 M270.9,469.2 L264.9,473.0 L270.9,476.8 M271.7,469.2 L277.7,473.0 L271.7,476.8" fill="none" stroke="#ff0000" stroke-width="1.3" stroke-linejoin="miter"/>
<text x="271.2" y="482.8" font-size="11.6" text-anchor="middle" fill="#ff0000" textLength="21" lengthAdjust="spacingAndGlyphs">SgN</text>
<path d="M453.6,473.0 H488.4 M459.6,469.2 L453.6,473.0 L459.6,476.8 M482.4,469.2 L488.4,473.0 L482.4,476.8" fill="none" stroke="#ff0000" stroke-width="1.3" stroke-linejoin="miter"/>
<text x="471" y="482.6" font-size="11.6" text-anchor="middle" fill="#ff0000" textLength="21.3" lengthAdjust="spacingAndGlyphs">SgF</text>
<path d="M501.7,473.0 H531.3 M507.7,469.2 L501.7,473.0 L507.7,476.8 M525.3,469.2 L531.3,473.0 L525.3,476.8" fill="none" stroke="#ff0000" stroke-width="1.3" stroke-linejoin="miter"/>
<text x="516.5" y="482.6" font-size="11.6" text-anchor="middle" fill="#ff0000" textLength="19.4" lengthAdjust="spacingAndGlyphs">Per</text>
<!-- axis labels -->
<text x="405.7" y="496" font-size="11.4" text-anchor="start" fill="#1c1c1c" textLength="85" lengthAdjust="spacingAndGlyphs">Distance (kpc)</text>
<g transform="translate(178.3,307.2) rotate(-90)">
<text x="0" y="0" font-size="11.3" fill="#1c1c1c" textLength="146.5" lengthAdjust="spacingAndGlyphs">Probability Density (kpc</text>
<text x="147" y="-4.2" font-size="7.6" fill="#1c1c1c" textLength="8" lengthAdjust="spacingAndGlyphs">&#8722;1</text>
<text x="155.2" y="0" font-size="11.3" fill="#1c1c1c">)</text>
</g>
</g>
</svg>
</body></html>
